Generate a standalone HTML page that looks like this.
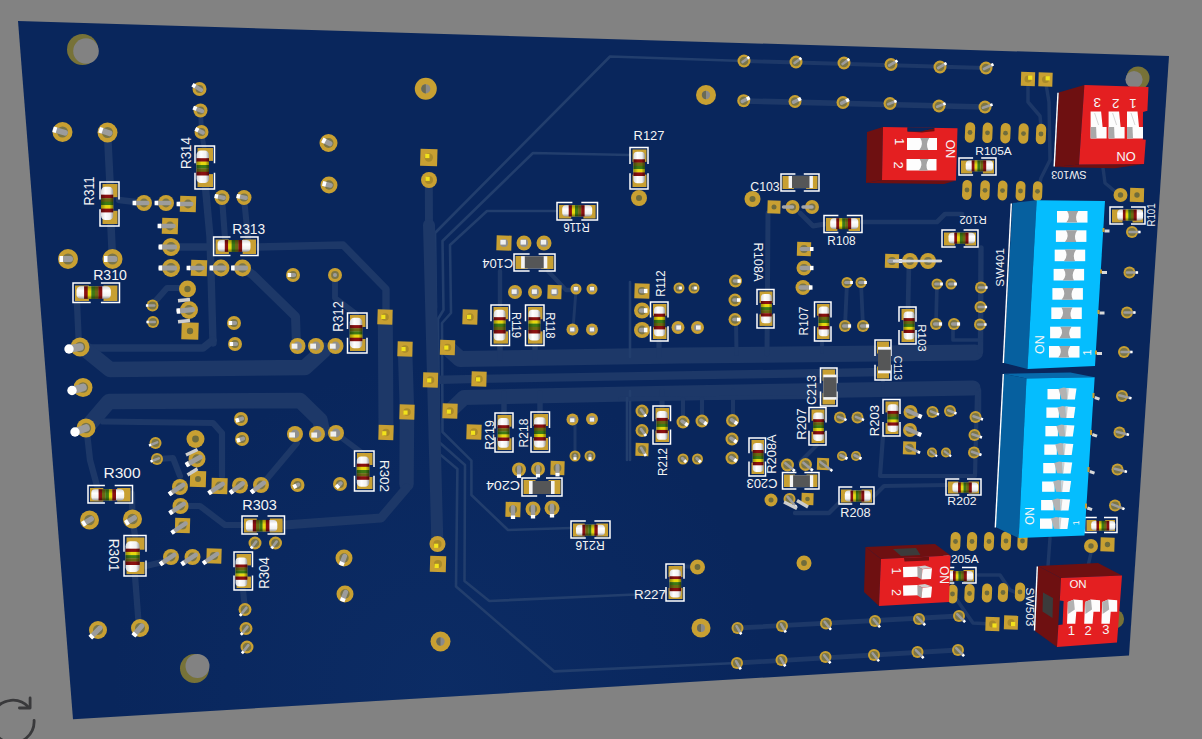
<!DOCTYPE html>
<html lang="en"><head><meta charset="utf-8"><title>PCB 3D view</title>
<style>html,body{margin:0;padding:0;background:#828282;overflow:hidden}svg{display:block}</style>
</head><body>
<svg width="1202" height="739" viewBox="0 0 1202 739">
<defs>
<linearGradient id="cylH" x1="0" y1="0" x2="0" y2="1"><stop offset="0" stop-color="#d8d8d8"/><stop offset="0.35" stop-color="#ffffff"/><stop offset="0.75" stop-color="#f0f0f0"/><stop offset="1" stop-color="#9a9a9a"/></linearGradient>
<linearGradient id="cylV" x1="0" y1="0" x2="1" y2="0"><stop offset="0" stop-color="#d8d8d8"/><stop offset="0.35" stop-color="#ffffff"/><stop offset="0.75" stop-color="#f0f0f0"/><stop offset="1" stop-color="#9a9a9a"/></linearGradient>
<linearGradient id="shadeH" x1="0" y1="0" x2="0" y2="1"><stop offset="0" stop-color="#000" stop-opacity="0.35"/><stop offset="0.4" stop-color="#000" stop-opacity="0"/><stop offset="0.7" stop-color="#000" stop-opacity="0"/><stop offset="1" stop-color="#000" stop-opacity="0.45"/></linearGradient>
<linearGradient id="shadeV" x1="0" y1="0" x2="1" y2="0"><stop offset="0" stop-color="#000" stop-opacity="0.35"/><stop offset="0.4" stop-color="#000" stop-opacity="0"/><stop offset="0.7" stop-color="#000" stop-opacity="0"/><stop offset="1" stop-color="#000" stop-opacity="0.45"/></linearGradient>
<radialGradient id="spec" cx="440" cy="690" r="330" gradientUnits="userSpaceOnUse"><stop offset="0" stop-color="#1a4a90" stop-opacity="0.16"/><stop offset="1" stop-color="#1a4a90" stop-opacity="0"/></radialGradient>
<clipPath id="bclip"><polygon points="18,21 1169,56 1129,655.5 73,719.3"/></clipPath>
</defs>
<rect width="1202" height="739" fill="#828282"/>
<polygon points="18,21 1169,56 1129,655.5 73,719.3" fill="#09265c"/>
<g clip-path="url(#bclip)">
<rect width="1202" height="739" fill="url(#spec)"/>
<g fill="none" stroke="#1d3868" stroke-linecap="round" stroke-linejoin="round">
<path d="M744 61 L610 56.5 L435 233 L436 307 L434 320 L436 451 L457.4 469 L456 586.6 L554.4 671.4 L737 663" stroke-width="2.6" stroke="#223e6d"/>
<path d="M630 155 L533 153 L442.5 241 L443.5 310 L438 319 L439 442 L465 465 L464.5 581 L489.3 601 L635 594.5 L666 592" stroke-width="2.6" stroke="#223e6d"/>
<path d="M557 211 L487 211 L450 245 L451 313 L442 323 L442.5 432 L471.4 460.6 L471.4 495 L508 530 L571 528" stroke-width="2.6" stroke="#223e6d"/>
<path d="M744 101 L985 107" stroke-width="5.7"/>
<path d="M986 68 L744 61" stroke-width="3.8"/>
<path d="M428.8 182 L429 225" stroke-width="8"/>
<path d="M429 225 L437.3 540" stroke-width="12"/>
<path d="M107.5 133 L110 183" stroke-width="7.6"/>
<path d="M111 226 L112.5 259" stroke-width="7.6"/>
<path d="M119 200 L144 203" stroke-width="6.3"/>
<path d="M205.5 188 L210 237 L213 343" stroke-width="7.4"/>
<path d="M222 198 L225 238" stroke-width="6.1"/>
<path d="M244 198 L248 238" stroke-width="6.1"/>
<path d="M171 247 L214 247" stroke-width="7.4"/>
<path d="M258 247 L343 245 L386 289 L386 317" stroke-width="7.4"/>
<path d="M385.3 317 L386 432" stroke-width="15"/>
<path d="M243 268 L253 275 L295.5 316.5 L296.5 346" stroke-width="9"/>
<path d="M335 275 L335 298 L356 314" stroke-width="5.9"/>
<path d="M80 348 L203 348 L213 340" stroke-width="7.5"/>
<path d="M77 303 L79 347" stroke-width="6.4"/>
<path d="M152 305 L167 288 L187 288" stroke-width="6.2"/>
<path d="M86 350 L110 369.5 L305 367.5 L324 350" stroke-width="15.5"/>
<path d="M88 426 L109 401.5 L300 400.5 L320 420 L322 430" stroke-width="15.5"/>
<path d="M103 421.5 L213 423 L222 433 L222 476" stroke-width="6.2"/>
<path d="M87 433 L90 460 L97 486" stroke-width="6.4"/>
<path d="M132 494 L132.5 519 L135 536" stroke-width="6.3"/>
<path d="M266 480 L297 443" stroke-width="6"/>
<path d="M340 436.5 L362 453" stroke-width="5.9"/>
<path d="M405 349 L407 412 L406.5 484" stroke-width="14.5"/>
<path d="M406.5 488 L381 518 L284.5 525" stroke-width="9"/>
<path d="M180.5 506 L200 506 L225 525 L242 525" stroke-width="6.2"/>
<path d="M157 459 L173 458 L180 476" stroke-width="6.2"/>
<path d="M135 576 L139 628" stroke-width="6.3"/>
<path d="M146 566 L171 560" stroke-width="6.3"/>
<path d="M243 590 L245 609" stroke-width="6.1"/>
<path d="M449 349 L460 359 L680 355.5 L975 352.5" stroke-width="16"/>
<path d="M430.5 380 L479 378.8 L680 375.4 L883 372" stroke-width="8.3"/>
<path d="M452 409 L464 397.5 L680 393 L973 388" stroke-width="15"/>
<path d="M630 282 L630 357" stroke-width="2.6" stroke="#223e6d"/>
<path d="M768 213 L767 354" stroke-width="5"/>
<path d="M736 320 L736.5 354" stroke-width="4"/>
<path d="M500 345 L500 358" stroke-width="5.6"/>
<path d="M535 345 L535 358" stroke-width="5.5"/>
<path d="M659 341 L659 356" stroke-width="5.2"/>
<path d="M630 391 L630 460" stroke-width="2.6" stroke="#223e6d"/>
<path d="M662 391 L662 407" stroke-width="5.2"/>
<path d="M504 393 L504 414" stroke-width="5.5"/>
<path d="M540 393 L540 413" stroke-width="5.5"/>
<path d="M733 390 L733 420" stroke-width="4"/>
<path d="M737 663 L958 650" stroke-width="4.8"/>
<path d="M737.5 628 L959 616" stroke-width="4.8"/>
<path d="M800 213 L813 226 L825 224" stroke-width="4.9"/>
<path d="M862 222 L937 222 L945 214 L962 214" stroke-width="4.7"/>
<path d="M980.5 352 L981 248" stroke-width="5.4"/>
<path d="M909 262 L908 308" stroke-width="4.7"/>
<path d="M847 283 L845 326" stroke-width="3.9"/>
<path d="M861 283 L863 326" stroke-width="3.8"/>
<path d="M937 284 L936 324" stroke-width="3.7"/>
<path d="M953 326 L953 340 L981 340" stroke-width="3.7"/>
<path d="M1028 84 L1028 102 L1040 116 L1041 126" stroke-width="3.5"/>
<path d="M1046 84 L1049 102 L1050 160 L1041 178 L1039 186" stroke-width="3.5"/>
<path d="M1103 168 L1105 183 L1117 193" stroke-width="3.4"/>
<path d="M822 341 L822 352" stroke-width="3.9"/>
<path d="M883 380 L883 388" stroke-width="3.8"/>
<path d="M620 399 L817 397" stroke-width="4.1"/>
<path d="M627 398 L627 460" stroke-width="2.6" stroke="#223e6d"/>
<path d="M683 399 L683 422" stroke-width="4.1"/>
<path d="M702 399 L702 421" stroke-width="4.1"/>
<path d="M979 390 L979 413" stroke-width="4.5"/>
<path d="M883 436 L880 476 L975 476 L977 392" stroke-width="4.2"/>
<path d="M795 513 L829 513 L841 501" stroke-width="4.4"/>
<path d="M874 496 L884 486 L947 485" stroke-width="4.2"/>
<path d="M817 445 L800 462" stroke-width="3.9"/>
<path d="M676 566 L697 567" stroke-width="4.1"/>
<path d="M957 600 L973 623 L992 624" stroke-width="3.6"/>
<path d="M978 575 L1000 575 L1010 590 L1030 598" stroke-width="3.6"/>
<path d="M1091 553 L1088 566" stroke-width="3.4"/>
<path d="M1050 538 L1048 566" stroke-width="3.5"/>
<path d="M500 271 L500 305" stroke-width="4.4"/>
<path d="M548 271 L566 290 L576 290" stroke-width="4.3"/>
<path d="M576 290 L573 329" stroke-width="3"/>
<path d="M575 420 L575 456" stroke-width="3"/>
<path d="M200.5 110.5 L201.5 132 L204 147" stroke-width="4.9"/>
</g>
<circle cx="82.5" cy="49.5" r="15.5" fill="#777238"/>
<circle cx="86" cy="51" r="12.8" fill="#828282"/>
<circle cx="1138" cy="78" r="11.5" fill="#777238"/>
<circle cx="1134" cy="79.5" r="8.6" fill="#828282"/>
<circle cx="194.5" cy="668.5" r="14.5" fill="#777238"/>
<circle cx="197.5" cy="666" r="12" fill="#828282"/>
<circle cx="1114.5" cy="619" r="9.6" fill="#777238"/>
<circle cx="1104" cy="618" r="8" fill="#828282"/>
<circle cx="62.5" cy="132" r="10" fill="#c8a032"/>
<circle cx="62.5" cy="132" r="5.5" fill="#7a7548"/>
<line x1="65" y1="132.7" x2="55.5" y2="130" stroke="#9c9c9c" stroke-width="5.8" stroke-linecap="round"/>
<line x1="56.5" y1="130.3" x2="53.1" y2="129.3" stroke="#fff" stroke-width="5.8"/>
<circle cx="107.5" cy="132.5" r="10" fill="#c8a032"/>
<circle cx="107.5" cy="132.5" r="5.5" fill="#7a7548"/>
<line x1="109.6" y1="133.2" x2="101.5" y2="130.5" stroke="#9c9c9c" stroke-width="5.8" stroke-linecap="round"/>
<line x1="102.5" y1="130.8" x2="99.2" y2="129.7" stroke="#fff" stroke-width="5.8"/>
<circle cx="199.5" cy="89" r="7" fill="#c8a032"/>
<circle cx="199.5" cy="89" r="3.9" fill="#7a7548"/>
<line x1="201.2" y1="90" x2="194.5" y2="86" stroke="#9c9c9c" stroke-width="4.1" stroke-linecap="round"/>
<line x1="195.4" y1="86.5" x2="192.4" y2="84.7" stroke="#fff" stroke-width="4.1"/>
<circle cx="200.5" cy="110.5" r="7" fill="#c8a032"/>
<circle cx="200.5" cy="110.5" r="3.9" fill="#7a7548"/>
<line x1="202.2" y1="111.2" x2="195.5" y2="108.5" stroke="#9c9c9c" stroke-width="4.1" stroke-linecap="round"/>
<line x1="196.5" y1="108.9" x2="193.2" y2="107.6" stroke="#fff" stroke-width="4.1"/>
<circle cx="201.5" cy="132" r="7" fill="#c8a032"/>
<circle cx="201.5" cy="132" r="3.9" fill="#7a7548"/>
<line x1="202.9" y1="132.7" x2="197.5" y2="130" stroke="#9c9c9c" stroke-width="4.1" stroke-linecap="round"/>
<line x1="198.4" y1="130.5" x2="195.3" y2="128.9" stroke="#fff" stroke-width="4.1"/>
<circle cx="425.8" cy="88.8" r="11" fill="#c8a032"/>
<circle cx="425.8" cy="88.8" r="4.6" fill="#8a8a8a"/>
<path d="M425.8 84.2 a4.6 4.6 0 0 0 0 9.2 z" fill="#6a6a55"/>
<circle cx="328.5" cy="143" r="9" fill="#c8a032"/>
<circle cx="328.5" cy="143" r="5" fill="#7a7548"/>
<line x1="329.9" y1="143.7" x2="324.5" y2="141" stroke="#9c9c9c" stroke-width="5.2" stroke-linecap="round"/>
<line x1="325.4" y1="141.5" x2="322.3" y2="139.9" stroke="#fff" stroke-width="5.2"/>
<circle cx="329" cy="185" r="8.5" fill="#c8a032"/>
<circle cx="329" cy="185" r="4.7" fill="#7a7548"/>
<line x1="330.4" y1="185.3" x2="325" y2="184" stroke="#9c9c9c" stroke-width="4.9" stroke-linecap="round"/>
<line x1="326" y1="184.3" x2="322.6" y2="183.4" stroke="#fff" stroke-width="4.9"/>
<rect x="420.3" y="149" width="17" height="17" fill="#c8a032" transform="rotate(1.7 428.8 157.5)"/>
<circle cx="428.8" cy="157.5" r="4.2" fill="#a98a2a"/>
<rect x="425.2" y="153.9" width="4.2" height="4.2" fill="#f2e21c"/>
<circle cx="429" cy="180" r="8" fill="#c8a032"/>
<circle cx="429" cy="180" r="4" fill="#a98a2a"/>
<rect x="425.5" y="176.7" width="4.2" height="4.2" fill="#f2e21c"/>
<circle cx="144" cy="203" r="8" fill="#c8a032"/>
<circle cx="144" cy="203" r="4.4" fill="#7a7548"/>
<line x1="147.2" y1="203" x2="135" y2="203" stroke="#9c9c9c" stroke-width="4.6" stroke-linecap="round"/>
<line x1="136.1" y1="203" x2="132.6" y2="203" stroke="#fff" stroke-width="4.6"/>
<circle cx="166" cy="203" r="8" fill="#c8a032"/>
<circle cx="166" cy="203" r="4.4" fill="#7a7548"/>
<line x1="169.2" y1="203" x2="157" y2="203" stroke="#9c9c9c" stroke-width="4.6" stroke-linecap="round"/>
<line x1="158.1" y1="203" x2="154.6" y2="203" stroke="#fff" stroke-width="4.6"/>
<rect x="180" y="196" width="16" height="16" fill="#c8a032" transform="rotate(1.7 188 204)"/>
<circle cx="188" cy="204" r="4.4" fill="#7a7548"/>
<line x1="191.2" y1="204" x2="179" y2="204" stroke="#9c9c9c" stroke-width="4.6" stroke-linecap="round"/>
<line x1="180.1" y1="204" x2="176.6" y2="204" stroke="#fff" stroke-width="4.6"/>
<rect x="162" y="218" width="16" height="16" fill="#c8a032" transform="rotate(1.7 170 226)"/>
<circle cx="170" cy="226" r="4.4" fill="#7a7548"/>
<line x1="173.5" y1="226" x2="160" y2="226" stroke="#9c9c9c" stroke-width="4.6" stroke-linecap="round"/>
<line x1="161.1" y1="226" x2="157.6" y2="226" stroke="#fff" stroke-width="4.6"/>
<circle cx="171" cy="247" r="9" fill="#c8a032"/>
<circle cx="171" cy="247" r="5" fill="#7a7548"/>
<line x1="174.5" y1="247" x2="161" y2="247" stroke="#9c9c9c" stroke-width="5.2" stroke-linecap="round"/>
<line x1="162.1" y1="247" x2="158.6" y2="247" stroke="#fff" stroke-width="5.2"/>
<circle cx="171" cy="268" r="9" fill="#c8a032"/>
<circle cx="171" cy="268" r="5" fill="#7a7548"/>
<line x1="174.5" y1="268" x2="161" y2="268" stroke="#9c9c9c" stroke-width="5.2" stroke-linecap="round"/>
<line x1="162.1" y1="268" x2="158.6" y2="268" stroke="#fff" stroke-width="5.2"/>
<rect x="191" y="260" width="16" height="16" fill="#c8a032" transform="rotate(1.7 199 268)"/>
<circle cx="199" cy="268" r="4.4" fill="#7a7548"/>
<line x1="202.5" y1="268" x2="189" y2="268" stroke="#9c9c9c" stroke-width="4.6" stroke-linecap="round"/>
<line x1="190.1" y1="268" x2="186.6" y2="268" stroke="#fff" stroke-width="4.6"/>
<circle cx="221" cy="268" r="8.5" fill="#c8a032"/>
<circle cx="221" cy="268" r="4.7" fill="#7a7548"/>
<line x1="224.2" y1="268" x2="212" y2="268" stroke="#9c9c9c" stroke-width="4.9" stroke-linecap="round"/>
<line x1="213.1" y1="268" x2="209.6" y2="268" stroke="#fff" stroke-width="4.9"/>
<circle cx="242.5" cy="268" r="8.5" fill="#c8a032"/>
<circle cx="242.5" cy="268" r="4.7" fill="#7a7548"/>
<line x1="245.7" y1="268" x2="233.5" y2="268" stroke="#9c9c9c" stroke-width="4.9" stroke-linecap="round"/>
<line x1="234.6" y1="268" x2="231.1" y2="268" stroke="#fff" stroke-width="4.9"/>
<circle cx="222" cy="197.5" r="7.5" fill="#c8a032"/>
<circle cx="222" cy="197.5" r="4.1" fill="#7a7548"/>
<line x1="223.8" y1="197.8" x2="217" y2="196.5" stroke="#9c9c9c" stroke-width="4.3" stroke-linecap="round"/>
<line x1="218" y1="196.7" x2="214.6" y2="196" stroke="#fff" stroke-width="4.3"/>
<circle cx="244" cy="197.5" r="7.5" fill="#c8a032"/>
<circle cx="244" cy="197.5" r="4.1" fill="#7a7548"/>
<line x1="245.8" y1="197.8" x2="239" y2="196.5" stroke="#9c9c9c" stroke-width="4.3" stroke-linecap="round"/>
<line x1="240" y1="196.7" x2="236.6" y2="196" stroke="#fff" stroke-width="4.3"/>
<circle cx="68" cy="259" r="10" fill="#c8a032"/>
<circle cx="68" cy="259" r="5.5" fill="#7a7548"/>
<line x1="70.1" y1="259" x2="62" y2="259" stroke="#9c9c9c" stroke-width="5.8" stroke-linecap="round"/>
<line x1="63" y1="259" x2="59.5" y2="259" stroke="#fff" stroke-width="5.8"/>
<circle cx="112.5" cy="259" r="10" fill="#c8a032"/>
<circle cx="112.5" cy="259" r="5.5" fill="#7a7548"/>
<line x1="114.6" y1="259" x2="106.5" y2="259" stroke="#9c9c9c" stroke-width="5.8" stroke-linecap="round"/>
<line x1="107.5" y1="259" x2="104" y2="259" stroke="#fff" stroke-width="5.8"/>
<circle cx="152.5" cy="305.5" r="6" fill="#c8a032"/>
<circle cx="152.5" cy="305.5" r="4" fill="#7a7548"/>
<line x1="154.2" y1="305.5" x2="147.5" y2="305.5" stroke="#9c9c9c" stroke-width="2.5" stroke-linecap="round"/>
<line x1="148.2" y1="305.5" x2="145.9" y2="305.5" stroke="#fff" stroke-width="2.5"/>
<circle cx="153" cy="322" r="6" fill="#c8a032"/>
<circle cx="153" cy="322" r="4" fill="#7a7548"/>
<line x1="154.8" y1="322" x2="148" y2="322" stroke="#9c9c9c" stroke-width="2.5" stroke-linecap="round"/>
<line x1="148.7" y1="322" x2="146.4" y2="322" stroke="#fff" stroke-width="2.5"/>
<circle cx="187.5" cy="289" r="8.5" fill="#c8a032"/>
<circle cx="187.5" cy="289" r="3.2" fill="#6f6c3c"/>
<circle cx="189" cy="310" r="9" fill="#c8a032"/>
<circle cx="189" cy="310" r="5" fill="#7a7548"/>
<line x1="192.5" y1="309.6" x2="179" y2="311" stroke="#9c9c9c" stroke-width="5.2" stroke-linecap="round"/>
<line x1="180" y1="310.9" x2="176.6" y2="311.2" stroke="#fff" stroke-width="5.2"/>
<rect x="181.5" y="322.5" width="17" height="17" fill="#c8a032" transform="rotate(1.7 190 331)"/>
<circle cx="190" cy="331" r="3.2" fill="#6f6c3c"/>
<circle cx="234" cy="323" r="7" fill="#c8a032"/>
<circle cx="234" cy="323" r="3.9" fill="#7a7548"/>
<line x1="235.1" y1="323" x2="231" y2="323" stroke="#9c9c9c" stroke-width="4.1" stroke-linecap="round"/>
<line x1="232.1" y1="323" x2="228.6" y2="323" stroke="#fff" stroke-width="4.1"/>
<circle cx="235" cy="344" r="7" fill="#c8a032"/>
<circle cx="235" cy="344" r="3.9" fill="#7a7548"/>
<line x1="236.1" y1="344" x2="232" y2="344" stroke="#9c9c9c" stroke-width="4.1" stroke-linecap="round"/>
<line x1="233.1" y1="344" x2="229.6" y2="344" stroke="#fff" stroke-width="4.1"/>
<circle cx="80" cy="347" r="9.5" fill="#c8a032"/>
<circle cx="80" cy="347" r="5.2" fill="#7a7548"/>
<line x1="80" y1="347" x2="69" y2="349" stroke="#9c9c9c" stroke-width="7.6" stroke-linecap="round"/>
<circle cx="69" cy="349" r="4.7" fill="#fff"/>
<circle cx="293" cy="275" r="7" fill="#c8a032"/>
<circle cx="293" cy="275" r="3.9" fill="#7a7548"/>
<line x1="294.1" y1="275" x2="290" y2="275" stroke="#9c9c9c" stroke-width="4.1" stroke-linecap="round"/>
<line x1="291.1" y1="275" x2="287.6" y2="275" stroke="#fff" stroke-width="4.1"/>
<circle cx="335" cy="275" r="7" fill="#c8a032"/>
<circle cx="335" cy="275" r="3.9" fill="#7a7548"/>
<line x1="335" y1="275" x2="335" y2="275" stroke="#9c9c9c" stroke-width="4.1" stroke-linecap="round"/>
<line x1="335" y1="275" x2="335" y2="275" stroke="#fff" stroke-width="4.1"/>
<circle cx="297.5" cy="346" r="8" fill="#c8a032"/>
<circle cx="297.5" cy="346" r="4.4" fill="#8f8f8f"/>
<rect x="291.6" y="343.6" width="5.8" height="5.1" fill="#f0f0f0"/>
<circle cx="316" cy="346" r="8" fill="#c8a032"/>
<circle cx="316" cy="346" r="4.4" fill="#8f8f8f"/>
<rect x="310.2" y="343.6" width="5.8" height="5.1" fill="#f0f0f0"/>
<circle cx="335.5" cy="346" r="8" fill="#c8a032"/>
<circle cx="335.5" cy="346" r="4.4" fill="#8f8f8f"/>
<rect x="329.9" y="343.6" width="5.8" height="5.1" fill="#f0f0f0"/>
<rect x="377.5" y="309.5" width="15" height="15" fill="#c8a032" transform="rotate(1.7 385 317)"/>
<circle cx="385" cy="317" r="3.8" fill="#a98a2a"/>
<rect x="381.2" y="314.8" width="4.2" height="4.2" fill="#f2e21c"/>
<rect x="397.5" y="341.5" width="15" height="15" fill="#c8a032" transform="rotate(1.7 405 349)"/>
<circle cx="405" cy="349" r="3.8" fill="#a98a2a"/>
<rect x="401.4" y="347" width="4.2" height="4.2" fill="#f2e21c"/>
<rect x="440" y="340" width="15" height="15" fill="#c8a032" transform="rotate(1.7 447.5 347.5)"/>
<circle cx="447.5" cy="347.5" r="3.8" fill="#a98a2a"/>
<rect x="444.2" y="345.5" width="4.2" height="4.2" fill="#f2e21c"/>
<rect x="462.5" y="309.5" width="15" height="15" fill="#c8a032" transform="rotate(1.7 470 317)"/>
<circle cx="470" cy="317" r="3.8" fill="#a98a2a"/>
<rect x="466.9" y="314.8" width="4.2" height="4.2" fill="#f2e21c"/>
<rect x="496.5" y="235.5" width="15" height="15" fill="#c8a032" transform="rotate(1.7 504 243)"/>
<circle cx="504" cy="243" r="4.1" fill="#8f8f8f"/>
<rect x="500.4" y="239.8" width="5.4" height="4.8" fill="#f0f0f0"/>
<circle cx="524" cy="243" r="7.5" fill="#c8a032"/>
<circle cx="524" cy="243" r="4.1" fill="#8f8f8f"/>
<rect x="520.6" y="239.8" width="5.4" height="4.8" fill="#f0f0f0"/>
<circle cx="544" cy="243" r="7.5" fill="#c8a032"/>
<circle cx="544" cy="243" r="4.1" fill="#8f8f8f"/>
<rect x="540.8" y="239.8" width="5.4" height="4.8" fill="#f0f0f0"/>
<circle cx="515" cy="292" r="7" fill="#c8a032"/>
<circle cx="515" cy="292" r="3.9" fill="#8f8f8f"/>
<rect x="511.7" y="289.4" width="5" height="4.5" fill="#f0f0f0"/>
<circle cx="535" cy="292" r="7" fill="#c8a032"/>
<circle cx="535" cy="292" r="3.9" fill="#8f8f8f"/>
<rect x="531.9" y="289.4" width="5" height="4.5" fill="#f0f0f0"/>
<rect x="547.5" y="285" width="14" height="14" fill="#c8a032" transform="rotate(1.7 554.5 292)"/>
<circle cx="554.5" cy="292" r="3.9" fill="#8f8f8f"/>
<rect x="551.6" y="289.4" width="5" height="4.5" fill="#f0f0f0"/>
<circle cx="576" cy="289" r="5.5" fill="#c8a032"/>
<circle cx="576" cy="289" r="3" fill="#8f8f8f"/>
<rect x="573.9" y="287" width="4" height="3.5" fill="#f0f0f0"/>
<circle cx="592" cy="289" r="5.5" fill="#c8a032"/>
<circle cx="592" cy="289" r="3" fill="#8f8f8f"/>
<rect x="590" y="287" width="4" height="3.5" fill="#f0f0f0"/>
<circle cx="572.5" cy="329.5" r="6" fill="#c8a032"/>
<circle cx="572.5" cy="329.5" r="3.3" fill="#8f8f8f"/>
<rect x="570.1" y="327.6" width="4.3" height="3.8" fill="#f0f0f0"/>
<circle cx="592" cy="329.5" r="6" fill="#c8a032"/>
<circle cx="592" cy="329.5" r="3.3" fill="#8f8f8f"/>
<rect x="589.8" y="327.6" width="4.3" height="3.8" fill="#f0f0f0"/>
<circle cx="744" cy="61" r="6.5" fill="#c8a032"/>
<circle cx="744" cy="61" r="4.3" fill="#7a7548"/>
<line x1="742.6" y1="62" x2="748" y2="58" stroke="#9c9c9c" stroke-width="2.7" stroke-linecap="round"/>
<line x1="747.4" y1="58.4" x2="749.4" y2="57" stroke="#fff" stroke-width="2.7"/>
<circle cx="796" cy="62" r="6.5" fill="#c8a032"/>
<circle cx="796" cy="62" r="4.3" fill="#7a7548"/>
<line x1="794.6" y1="63" x2="800" y2="59" stroke="#9c9c9c" stroke-width="2.7" stroke-linecap="round"/>
<line x1="799.4" y1="59.4" x2="801.4" y2="58" stroke="#fff" stroke-width="2.7"/>
<circle cx="844" cy="63" r="6.5" fill="#c8a032"/>
<circle cx="844" cy="63" r="4.3" fill="#7a7548"/>
<line x1="842.6" y1="64" x2="848" y2="60" stroke="#9c9c9c" stroke-width="2.7" stroke-linecap="round"/>
<line x1="847.4" y1="60.4" x2="849.4" y2="59" stroke="#fff" stroke-width="2.7"/>
<circle cx="891" cy="64.5" r="6.5" fill="#c8a032"/>
<circle cx="891" cy="64.5" r="4.3" fill="#7a7548"/>
<line x1="889.2" y1="65.5" x2="896" y2="61.5" stroke="#9c9c9c" stroke-width="2.7" stroke-linecap="round"/>
<line x1="895.4" y1="61.9" x2="897.5" y2="60.6" stroke="#fff" stroke-width="2.7"/>
<circle cx="940" cy="67" r="6.5" fill="#c8a032"/>
<circle cx="940" cy="67" r="4.3" fill="#7a7548"/>
<line x1="938.2" y1="68" x2="945" y2="64" stroke="#9c9c9c" stroke-width="2.7" stroke-linecap="round"/>
<line x1="944.4" y1="64.4" x2="946.5" y2="63.1" stroke="#fff" stroke-width="2.7"/>
<circle cx="986" cy="68" r="6.5" fill="#c8a032"/>
<circle cx="986" cy="68" r="4.3" fill="#7a7548"/>
<line x1="983.9" y1="69" x2="992" y2="65" stroke="#9c9c9c" stroke-width="2.7" stroke-linecap="round"/>
<line x1="991.3" y1="65.3" x2="993.5" y2="64.2" stroke="#fff" stroke-width="2.7"/>
<circle cx="743.7" cy="100.7" r="6.5" fill="#c8a032"/>
<circle cx="743.7" cy="100.7" r="4.3" fill="#7a7548"/>
<line x1="742.3" y1="101.4" x2="747.7" y2="98.7" stroke="#9c9c9c" stroke-width="3.6" stroke-linecap="round"/>
<line x1="746.8" y1="99.1" x2="749.7" y2="97.7" stroke="#fff" stroke-width="3.6"/>
<circle cx="795" cy="101.5" r="6.5" fill="#c8a032"/>
<circle cx="795" cy="101.5" r="4.3" fill="#7a7548"/>
<line x1="793.6" y1="102.2" x2="799" y2="99.5" stroke="#9c9c9c" stroke-width="3.6" stroke-linecap="round"/>
<line x1="798.1" y1="99.9" x2="801" y2="98.5" stroke="#fff" stroke-width="3.6"/>
<circle cx="843" cy="102.5" r="6.5" fill="#c8a032"/>
<circle cx="843" cy="102.5" r="4.3" fill="#7a7548"/>
<line x1="841.6" y1="103.2" x2="847" y2="100.5" stroke="#9c9c9c" stroke-width="3.6" stroke-linecap="round"/>
<line x1="846.1" y1="100.9" x2="849" y2="99.5" stroke="#fff" stroke-width="3.6"/>
<circle cx="890" cy="103.5" r="6.5" fill="#c8a032"/>
<circle cx="890" cy="103.5" r="4.3" fill="#7a7548"/>
<line x1="888.2" y1="104.2" x2="895" y2="101.5" stroke="#9c9c9c" stroke-width="2.7" stroke-linecap="round"/>
<line x1="894.3" y1="101.8" x2="896.6" y2="100.9" stroke="#fff" stroke-width="2.7"/>
<circle cx="939" cy="106" r="6.5" fill="#c8a032"/>
<circle cx="939" cy="106" r="4.3" fill="#7a7548"/>
<line x1="937.2" y1="106.7" x2="944" y2="104" stroke="#9c9c9c" stroke-width="2.7" stroke-linecap="round"/>
<line x1="943.3" y1="104.3" x2="945.6" y2="103.4" stroke="#fff" stroke-width="2.7"/>
<circle cx="985" cy="107" r="6.5" fill="#c8a032"/>
<circle cx="985" cy="107" r="4.3" fill="#7a7548"/>
<line x1="982.9" y1="107.7" x2="991" y2="105" stroke="#9c9c9c" stroke-width="2.7" stroke-linecap="round"/>
<line x1="990.3" y1="105.2" x2="992.6" y2="104.5" stroke="#fff" stroke-width="2.7"/>
<circle cx="706" cy="95" r="10" fill="#c8a032"/>
<circle cx="706" cy="95" r="4.2" fill="#8a8a8a"/>
<path d="M706 90.8 a4.2 4.2 0 0 0 0 8.4 z" fill="#6a6a55"/>
<rect x="1021" y="72" width="14" height="14" fill="#c8a032" transform="rotate(1.7 1028 79)"/>
<circle cx="1028" cy="79" r="3.5" fill="#a98a2a"/>
<rect x="1028.1" y="75.6" width="4.2" height="4.2" fill="#f2e21c"/>
<rect x="1038.5" y="72.5" width="14" height="14" fill="#c8a032" transform="rotate(1.7 1045.5 79.5)"/>
<circle cx="1045.5" cy="79.5" r="3.5" fill="#a98a2a"/>
<rect x="1045.6" y="76.2" width="4.2" height="4.2" fill="#f2e21c"/>
<rect x="965" y="122.2" width="10" height="20.5" rx="5" fill="#c8a032" transform="rotate(2.5 970 132.5)"/>
<circle cx="970" cy="132.5" r="2.4" fill="#6f6c3c"/>
<rect x="982.5" y="122.6" width="10" height="20.5" rx="5" fill="#c8a032" transform="rotate(2.5 987.5 132.8)"/>
<circle cx="987.5" cy="132.8" r="2.4" fill="#6f6c3c"/>
<rect x="1000.5" y="122.9" width="10" height="20.5" rx="5" fill="#c8a032" transform="rotate(2.5 1005.5 133.2)"/>
<circle cx="1005.5" cy="133.2" r="2.4" fill="#6f6c3c"/>
<rect x="1018.5" y="123.3" width="10" height="20.5" rx="5" fill="#c8a032" transform="rotate(2.5 1023.5 133.6)"/>
<circle cx="1023.5" cy="133.6" r="2.4" fill="#6f6c3c"/>
<rect x="1036" y="123.8" width="10" height="20.5" rx="5" fill="#c8a032" transform="rotate(2.5 1041 134)"/>
<circle cx="1041" cy="134" r="2.4" fill="#6f6c3c"/>
<rect x="962.2" y="180" width="9.5" height="20" rx="4.8" fill="#c8a032" transform="rotate(2.5 967 190)"/>
<circle cx="967" cy="190" r="2.4" fill="#6f6c3c"/>
<rect x="980.2" y="180.3" width="9.5" height="20" rx="4.8" fill="#c8a032" transform="rotate(2.5 985 190.3)"/>
<circle cx="985" cy="190.3" r="2.4" fill="#6f6c3c"/>
<rect x="997.8" y="180.6" width="9.5" height="20" rx="4.8" fill="#c8a032" transform="rotate(2.5 1002.5 190.6)"/>
<circle cx="1002.5" cy="190.6" r="2.4" fill="#6f6c3c"/>
<rect x="1015.8" y="181" width="9.5" height="20" rx="4.8" fill="#c8a032" transform="rotate(2.5 1020.5 191)"/>
<circle cx="1020.5" cy="191" r="2.4" fill="#6f6c3c"/>
<rect x="1032.8" y="181.3" width="9.5" height="20" rx="4.8" fill="#c8a032" transform="rotate(2.5 1037.5 191.3)"/>
<circle cx="1037.5" cy="191.3" r="2.4" fill="#6f6c3c"/>
<circle cx="639" cy="198" r="8" fill="#c8a032"/>
<circle cx="639" cy="198" r="3" fill="#6f6c3c"/>
<circle cx="752.5" cy="199" r="8" fill="#c8a032"/>
<circle cx="752.5" cy="199" r="3" fill="#6f6c3c"/>
<rect x="767.5" y="200.5" width="13" height="13" fill="#c8a032" transform="rotate(1.7 774 207)"/>
<circle cx="774" cy="207" r="2.5" fill="#6f6c3c"/>
<circle cx="792.5" cy="207" r="7" fill="#c8a032"/>
<circle cx="792.5" cy="207" r="3.5" fill="#77724a"/>
<line x1="792.5" y1="207" x2="783.5" y2="207" stroke="#a6a6a6" stroke-width="3.5" stroke-linecap="round"/>
<circle cx="812" cy="207" r="7" fill="#c8a032"/>
<circle cx="812" cy="207" r="3.5" fill="#77724a"/>
<line x1="812" y1="207" x2="803" y2="207" stroke="#a6a6a6" stroke-width="3.5" stroke-linecap="round"/>
<rect x="797" y="242" width="14" height="14" fill="#c8a032" transform="rotate(1.7 804 249)"/>
<circle cx="804" cy="249" r="3.9" fill="#7a7548"/>
<line x1="801.5" y1="249" x2="811" y2="249" stroke="#9c9c9c" stroke-width="4.1" stroke-linecap="round"/>
<line x1="810" y1="249" x2="813.5" y2="249" stroke="#fff" stroke-width="4.1"/>
<circle cx="804" cy="268" r="7.5" fill="#c8a032"/>
<circle cx="804" cy="268" r="4.1" fill="#7a7548"/>
<line x1="801.5" y1="268" x2="811" y2="268" stroke="#9c9c9c" stroke-width="4.3" stroke-linecap="round"/>
<line x1="810" y1="268" x2="813.5" y2="268" stroke="#fff" stroke-width="4.3"/>
<circle cx="803" cy="287.5" r="7.5" fill="#c8a032"/>
<circle cx="803" cy="287.5" r="4.1" fill="#7a7548"/>
<line x1="800.5" y1="287.5" x2="810" y2="287.5" stroke="#9c9c9c" stroke-width="4.3" stroke-linecap="round"/>
<line x1="809" y1="287.5" x2="812.5" y2="287.5" stroke="#fff" stroke-width="4.3"/>
<rect x="885" y="254" width="14" height="14" fill="#c8a032" transform="rotate(1.7 892 261)"/>
<circle cx="892" cy="261" r="3.9" fill="#7a7548"/>
<line x1="889.2" y1="261" x2="900" y2="261" stroke="#9c9c9c" stroke-width="4.1" stroke-linecap="round"/>
<line x1="899" y1="261" x2="902.5" y2="261" stroke="#fff" stroke-width="4.1"/>
<circle cx="735.5" cy="281" r="6.5" fill="#c8a032"/>
<circle cx="735.5" cy="281" r="4.3" fill="#7a7548"/>
<line x1="734.5" y1="281" x2="738.5" y2="281" stroke="#9c9c9c" stroke-width="3.6" stroke-linecap="round"/>
<line x1="737.5" y1="281" x2="740.8" y2="281" stroke="#fff" stroke-width="3.6"/>
<circle cx="735" cy="300" r="6.5" fill="#c8a032"/>
<circle cx="735" cy="300" r="4.3" fill="#7a7548"/>
<line x1="734" y1="300" x2="738" y2="300" stroke="#9c9c9c" stroke-width="3.6" stroke-linecap="round"/>
<line x1="737" y1="300" x2="740.3" y2="300" stroke="#fff" stroke-width="3.6"/>
<circle cx="735" cy="319.5" r="6.5" fill="#c8a032"/>
<circle cx="735" cy="319.5" r="4.3" fill="#7a7548"/>
<line x1="734" y1="319.5" x2="738" y2="319.5" stroke="#9c9c9c" stroke-width="3.6" stroke-linecap="round"/>
<line x1="737" y1="319.5" x2="740.3" y2="319.5" stroke="#fff" stroke-width="3.6"/>
<rect x="634.5" y="283.5" width="15" height="15" fill="#c8a032" transform="rotate(1.7 642 291)"/>
<circle cx="642" cy="291" r="4.1" fill="#7a7548"/>
<line x1="641" y1="291" x2="645" y2="291" stroke="#9c9c9c" stroke-width="4.3" stroke-linecap="round"/>
<line x1="644" y1="291" x2="647.5" y2="291" stroke="#fff" stroke-width="4.3"/>
<circle cx="642" cy="310.5" r="8" fill="#c8a032"/>
<circle cx="642" cy="310.5" r="4.4" fill="#7a7548"/>
<line x1="641" y1="310.5" x2="645" y2="310.5" stroke="#9c9c9c" stroke-width="4.6" stroke-linecap="round"/>
<line x1="644" y1="310.5" x2="647.5" y2="310.5" stroke="#fff" stroke-width="4.6"/>
<circle cx="642" cy="330" r="8" fill="#c8a032"/>
<circle cx="642" cy="330" r="4.4" fill="#7a7548"/>
<line x1="641" y1="330" x2="645" y2="330" stroke="#9c9c9c" stroke-width="4.6" stroke-linecap="round"/>
<line x1="644" y1="330" x2="647.5" y2="330" stroke="#fff" stroke-width="4.6"/>
<circle cx="679" cy="288" r="5.5" fill="#c8a032"/>
<circle cx="679" cy="288" r="3.6" fill="#7a7548"/>
<line x1="678.6" y1="288" x2="680" y2="288" stroke="#9c9c9c" stroke-width="3" stroke-linecap="round"/>
<line x1="679.2" y1="288" x2="681.9" y2="288" stroke="#fff" stroke-width="3"/>
<circle cx="694" cy="288" r="5.5" fill="#c8a032"/>
<circle cx="694" cy="288" r="3.6" fill="#7a7548"/>
<line x1="693.6" y1="288" x2="695" y2="288" stroke="#9c9c9c" stroke-width="3" stroke-linecap="round"/>
<line x1="694.2" y1="288" x2="696.9" y2="288" stroke="#fff" stroke-width="3"/>
<circle cx="678" cy="327.5" r="6.5" fill="#c8a032"/>
<circle cx="678" cy="327.5" r="3.6" fill="#8f8f8f"/>
<rect x="676.3" y="325.4" width="4.7" height="4.2" fill="#f0f0f0"/>
<circle cx="697.5" cy="327.5" r="6.5" fill="#c8a032"/>
<circle cx="697.5" cy="327.5" r="3.6" fill="#8f8f8f"/>
<rect x="696" y="325.4" width="4.7" height="4.2" fill="#f0f0f0"/>
<circle cx="847" cy="282.5" r="5.5" fill="#c8a032"/>
<circle cx="847" cy="282.5" r="3.6" fill="#7a7548"/>
<line x1="845.6" y1="282.5" x2="851" y2="282.5" stroke="#9c9c9c" stroke-width="3" stroke-linecap="round"/>
<line x1="850.2" y1="282.5" x2="852.9" y2="282.5" stroke="#fff" stroke-width="3"/>
<circle cx="861" cy="282.5" r="5.5" fill="#c8a032"/>
<circle cx="861" cy="282.5" r="3.6" fill="#7a7548"/>
<line x1="859.6" y1="282.5" x2="865" y2="282.5" stroke="#9c9c9c" stroke-width="3" stroke-linecap="round"/>
<line x1="864.2" y1="282.5" x2="866.9" y2="282.5" stroke="#fff" stroke-width="3"/>
<circle cx="845" cy="326" r="6" fill="#c8a032"/>
<circle cx="845" cy="326" r="4" fill="#7a7548"/>
<line x1="843.6" y1="326" x2="849" y2="326" stroke="#9c9c9c" stroke-width="3.3" stroke-linecap="round"/>
<line x1="848.1" y1="326" x2="851.1" y2="326" stroke="#fff" stroke-width="3.3"/>
<circle cx="863" cy="326" r="6" fill="#c8a032"/>
<circle cx="863" cy="326" r="4" fill="#7a7548"/>
<line x1="861.6" y1="326" x2="867" y2="326" stroke="#9c9c9c" stroke-width="3.3" stroke-linecap="round"/>
<line x1="866.1" y1="326" x2="869.1" y2="326" stroke="#fff" stroke-width="3.3"/>
<circle cx="1120.5" cy="195" r="7" fill="#c8a032"/>
<circle cx="1120.5" cy="195" r="2.7" fill="#6f6c3c"/>
<rect x="1130" y="188" width="14" height="14" fill="#c8a032" transform="rotate(1.7 1137 195)"/>
<circle cx="1137" cy="195" r="2.7" fill="#6f6c3c"/>
<circle cx="1132" cy="232" r="6" fill="#c8a032"/>
<circle cx="1132" cy="232" r="4" fill="#7a7548"/>
<line x1="1129.5" y1="232" x2="1139" y2="232" stroke="#9c9c9c" stroke-width="2.5" stroke-linecap="round"/>
<line x1="1138.3" y1="232" x2="1140.6" y2="232" stroke="#fff" stroke-width="2.5"/>
<circle cx="1129.5" cy="272.5" r="6" fill="#c8a032"/>
<circle cx="1129.5" cy="272.5" r="4" fill="#7a7548"/>
<line x1="1127" y1="272.5" x2="1136.5" y2="272.5" stroke="#9c9c9c" stroke-width="2.5" stroke-linecap="round"/>
<line x1="1135.8" y1="272.5" x2="1138.1" y2="272.5" stroke="#fff" stroke-width="2.5"/>
<circle cx="1127" cy="312.5" r="6" fill="#c8a032"/>
<circle cx="1127" cy="312.5" r="4" fill="#7a7548"/>
<line x1="1124.5" y1="312.5" x2="1134" y2="312.5" stroke="#9c9c9c" stroke-width="2.5" stroke-linecap="round"/>
<line x1="1133.3" y1="312.5" x2="1135.6" y2="312.5" stroke="#fff" stroke-width="2.5"/>
<circle cx="1124" cy="352" r="6" fill="#c8a032"/>
<circle cx="1124" cy="352" r="4" fill="#7a7548"/>
<line x1="1121.5" y1="352" x2="1131" y2="352" stroke="#9c9c9c" stroke-width="2.5" stroke-linecap="round"/>
<line x1="1130.3" y1="352" x2="1132.6" y2="352" stroke="#fff" stroke-width="2.5"/>
<circle cx="910" cy="261" r="8" fill="#c8a032"/>
<circle cx="910" cy="261" r="4" fill="#77724a"/>
<line x1="910" y1="261" x2="894" y2="261" stroke="#d4d4d4" stroke-width="2.4" stroke-linecap="round"/>
<circle cx="928" cy="261" r="8" fill="#c8a032"/>
<circle cx="928" cy="261" r="4" fill="#77724a"/>
<line x1="928" y1="261" x2="941" y2="261" stroke="#d4d4d4" stroke-width="2.4" stroke-linecap="round"/>
<circle cx="937" cy="284" r="5.5" fill="#c8a032"/>
<circle cx="937" cy="284" r="3.6" fill="#7a7548"/>
<line x1="935.6" y1="284" x2="941" y2="284" stroke="#9c9c9c" stroke-width="3" stroke-linecap="round"/>
<line x1="940.2" y1="284" x2="942.9" y2="284" stroke="#fff" stroke-width="3"/>
<circle cx="951" cy="284" r="5.5" fill="#c8a032"/>
<circle cx="951" cy="284" r="3.6" fill="#7a7548"/>
<line x1="949.6" y1="284" x2="955" y2="284" stroke="#9c9c9c" stroke-width="3" stroke-linecap="round"/>
<line x1="954.2" y1="284" x2="956.9" y2="284" stroke="#fff" stroke-width="3"/>
<circle cx="981" cy="287.5" r="6" fill="#c8a032"/>
<circle cx="981" cy="287.5" r="4" fill="#7a7548"/>
<line x1="979.2" y1="287.5" x2="986" y2="287.5" stroke="#9c9c9c" stroke-width="2.5" stroke-linecap="round"/>
<line x1="985.3" y1="287.5" x2="987.6" y2="287.5" stroke="#fff" stroke-width="2.5"/>
<circle cx="980.5" cy="307" r="6" fill="#c8a032"/>
<circle cx="980.5" cy="307" r="4" fill="#7a7548"/>
<line x1="978.8" y1="307" x2="985.5" y2="307" stroke="#9c9c9c" stroke-width="2.5" stroke-linecap="round"/>
<line x1="984.8" y1="307" x2="987.1" y2="307" stroke="#fff" stroke-width="2.5"/>
<circle cx="980" cy="324.5" r="6" fill="#c8a032"/>
<circle cx="980" cy="324.5" r="4" fill="#7a7548"/>
<line x1="978.2" y1="324.5" x2="985" y2="324.5" stroke="#9c9c9c" stroke-width="2.5" stroke-linecap="round"/>
<line x1="984.3" y1="324.5" x2="986.6" y2="324.5" stroke="#fff" stroke-width="2.5"/>
<circle cx="936" cy="324" r="6" fill="#c8a032"/>
<circle cx="936" cy="324" r="4" fill="#7a7548"/>
<line x1="934.6" y1="324" x2="940" y2="324" stroke="#9c9c9c" stroke-width="3.3" stroke-linecap="round"/>
<line x1="939.1" y1="324" x2="942.1" y2="324" stroke="#fff" stroke-width="3.3"/>
<circle cx="954" cy="324" r="6" fill="#c8a032"/>
<circle cx="954" cy="324" r="4" fill="#7a7548"/>
<line x1="952.6" y1="324" x2="958" y2="324" stroke="#9c9c9c" stroke-width="3.3" stroke-linecap="round"/>
<line x1="957.1" y1="324" x2="960.1" y2="324" stroke="#fff" stroke-width="3.3"/>
<circle cx="83" cy="387.5" r="9.5" fill="#c8a032"/>
<circle cx="83" cy="387.5" r="5.2" fill="#7a7548"/>
<line x1="83" y1="387.5" x2="72" y2="390.5" stroke="#9c9c9c" stroke-width="7.6" stroke-linecap="round"/>
<circle cx="72" cy="390.5" r="4.7" fill="#fff"/>
<circle cx="86" cy="428" r="9.5" fill="#c8a032"/>
<circle cx="86" cy="428" r="5.2" fill="#7a7548"/>
<line x1="86" y1="428" x2="75" y2="432" stroke="#9c9c9c" stroke-width="7.6" stroke-linecap="round"/>
<circle cx="75" cy="432" r="4.7" fill="#fff"/>
<circle cx="155.5" cy="443" r="6" fill="#c8a032"/>
<circle cx="155.5" cy="443" r="4" fill="#7a7548"/>
<line x1="157.2" y1="442.3" x2="150.5" y2="445" stroke="#9c9c9c" stroke-width="2.5" stroke-linecap="round"/>
<line x1="151.1" y1="444.7" x2="149" y2="445.6" stroke="#fff" stroke-width="2.5"/>
<circle cx="157" cy="459" r="6" fill="#c8a032"/>
<circle cx="157" cy="459" r="4" fill="#7a7548"/>
<line x1="158.8" y1="458.3" x2="152" y2="461" stroke="#9c9c9c" stroke-width="2.5" stroke-linecap="round"/>
<line x1="152.6" y1="460.7" x2="150.5" y2="461.6" stroke="#fff" stroke-width="2.5"/>
<circle cx="195.5" cy="439" r="9" fill="#c8a032"/>
<circle cx="195.5" cy="439" r="3.4" fill="#6f6c3c"/>
<circle cx="197" cy="459" r="8.5" fill="#c8a032"/>
<circle cx="197" cy="459" r="4.7" fill="#7a7548"/>
<line x1="200.2" y1="457.2" x2="188" y2="464" stroke="#9c9c9c" stroke-width="4.9" stroke-linecap="round"/>
<line x1="188.9" y1="463.5" x2="185.9" y2="465.2" stroke="#fff" stroke-width="4.9"/>
<rect x="190" y="471" width="16" height="16" fill="#c8a032" transform="rotate(1.7 198 479)"/>
<circle cx="198" cy="479" r="3" fill="#6f6c3c"/>
<circle cx="241" cy="419" r="7" fill="#c8a032"/>
<circle cx="241" cy="419" r="3.9" fill="#7a7548"/>
<line x1="242.1" y1="418.6" x2="238" y2="420" stroke="#9c9c9c" stroke-width="4.1" stroke-linecap="round"/>
<line x1="239" y1="419.7" x2="235.7" y2="420.8" stroke="#fff" stroke-width="4.1"/>
<circle cx="242" cy="439" r="7" fill="#c8a032"/>
<circle cx="242" cy="439" r="3.9" fill="#7a7548"/>
<line x1="243.1" y1="438.6" x2="239" y2="440" stroke="#9c9c9c" stroke-width="4.1" stroke-linecap="round"/>
<line x1="240" y1="439.7" x2="236.7" y2="440.8" stroke="#fff" stroke-width="4.1"/>
<circle cx="295" cy="434" r="8" fill="#c8a032"/>
<circle cx="295" cy="434" r="4.4" fill="#8f8f8f"/>
<rect x="289.2" y="432.4" width="5.8" height="5.1" fill="#f0f0f0"/>
<circle cx="89.5" cy="520" r="9.5" fill="#c8a032"/>
<circle cx="89.5" cy="520" r="5.2" fill="#7a7548"/>
<line x1="91.2" y1="519" x2="84.5" y2="523" stroke="#9c9c9c" stroke-width="5.5" stroke-linecap="round"/>
<line x1="85.4" y1="522.5" x2="82.4" y2="524.3" stroke="#fff" stroke-width="5.5"/>
<circle cx="132.5" cy="519" r="9.5" fill="#c8a032"/>
<circle cx="132.5" cy="519" r="5.2" fill="#7a7548"/>
<line x1="134.2" y1="518" x2="127.5" y2="522" stroke="#9c9c9c" stroke-width="5.5" stroke-linecap="round"/>
<line x1="128.4" y1="521.5" x2="125.4" y2="523.3" stroke="#fff" stroke-width="5.5"/>
<circle cx="180" cy="487" r="8" fill="#c8a032"/>
<circle cx="180" cy="487" r="4.4" fill="#7a7548"/>
<line x1="183.2" y1="484.9" x2="171" y2="493" stroke="#9c9c9c" stroke-width="4.6" stroke-linecap="round"/>
<line x1="171.9" y1="492.4" x2="169" y2="494.4" stroke="#fff" stroke-width="4.6"/>
<circle cx="180.5" cy="506" r="8" fill="#c8a032"/>
<circle cx="180.5" cy="506" r="4.4" fill="#7a7548"/>
<line x1="183.7" y1="503.9" x2="171.5" y2="512" stroke="#9c9c9c" stroke-width="4.6" stroke-linecap="round"/>
<line x1="172.4" y1="511.4" x2="169.5" y2="513.4" stroke="#fff" stroke-width="4.6"/>
<rect x="175" y="518" width="15" height="15" fill="#c8a032" transform="rotate(1.7 182.5 525.5)"/>
<circle cx="182.5" cy="525.5" r="4.1" fill="#7a7548"/>
<line x1="185.7" y1="523.4" x2="173.5" y2="531.5" stroke="#9c9c9c" stroke-width="4.3" stroke-linecap="round"/>
<line x1="174.4" y1="530.9" x2="171.5" y2="532.9" stroke="#fff" stroke-width="4.3"/>
<rect x="211.5" y="478" width="16" height="16" fill="#c8a032" transform="rotate(1.7 219.5 486)"/>
<circle cx="219.5" cy="486" r="4.4" fill="#7a7548"/>
<line x1="222.7" y1="483.9" x2="210.5" y2="492" stroke="#9c9c9c" stroke-width="4.6" stroke-linecap="round"/>
<line x1="211.4" y1="491.4" x2="208.5" y2="493.4" stroke="#fff" stroke-width="4.6"/>
<circle cx="240" cy="485.5" r="8" fill="#c8a032"/>
<circle cx="240" cy="485.5" r="4.4" fill="#7a7548"/>
<line x1="242.8" y1="483.4" x2="232" y2="491.5" stroke="#9c9c9c" stroke-width="4.6" stroke-linecap="round"/>
<line x1="232.8" y1="490.9" x2="230" y2="493" stroke="#fff" stroke-width="4.6"/>
<circle cx="261" cy="485" r="8" fill="#c8a032"/>
<circle cx="261" cy="485" r="4.4" fill="#7a7548"/>
<line x1="263.8" y1="482.9" x2="253" y2="491" stroke="#9c9c9c" stroke-width="4.6" stroke-linecap="round"/>
<line x1="253.8" y1="490.4" x2="251" y2="492.5" stroke="#fff" stroke-width="4.6"/>
<circle cx="297.5" cy="485" r="7" fill="#c8a032"/>
<circle cx="297.5" cy="485" r="3.9" fill="#7a7548"/>
<line x1="298.2" y1="484.6" x2="295.5" y2="486" stroke="#9c9c9c" stroke-width="4.1" stroke-linecap="round"/>
<line x1="296.4" y1="485.5" x2="293.3" y2="487.1" stroke="#fff" stroke-width="4.1"/>
<circle cx="255" cy="543" r="6.5" fill="#c8a032"/>
<circle cx="255" cy="543" r="4.3" fill="#7a7548"/>
<line x1="256.1" y1="541.6" x2="252" y2="547" stroke="#9c9c9c" stroke-width="2.7" stroke-linecap="round"/>
<line x1="252.4" y1="546.4" x2="251" y2="548.4" stroke="#fff" stroke-width="2.7"/>
<circle cx="275.5" cy="543" r="6.5" fill="#c8a032"/>
<circle cx="275.5" cy="543" r="4.3" fill="#7a7548"/>
<line x1="276.6" y1="541.6" x2="272.5" y2="547" stroke="#9c9c9c" stroke-width="2.7" stroke-linecap="round"/>
<line x1="272.9" y1="546.4" x2="271.5" y2="548.4" stroke="#fff" stroke-width="2.7"/>
<circle cx="171" cy="557" r="8" fill="#c8a032"/>
<circle cx="171" cy="557" r="4.4" fill="#7a7548"/>
<line x1="174.2" y1="554.9" x2="162" y2="563" stroke="#9c9c9c" stroke-width="4.6" stroke-linecap="round"/>
<line x1="162.9" y1="562.4" x2="160" y2="564.4" stroke="#fff" stroke-width="4.6"/>
<circle cx="192.5" cy="557" r="8" fill="#c8a032"/>
<circle cx="192.5" cy="557" r="4.4" fill="#7a7548"/>
<line x1="195.7" y1="554.9" x2="183.5" y2="563" stroke="#9c9c9c" stroke-width="4.6" stroke-linecap="round"/>
<line x1="184.4" y1="562.4" x2="181.5" y2="564.4" stroke="#fff" stroke-width="4.6"/>
<rect x="206.5" y="548.5" width="15" height="15" fill="#c8a032" transform="rotate(1.7 214 556)"/>
<circle cx="214" cy="556" r="4.1" fill="#7a7548"/>
<line x1="217.2" y1="553.9" x2="205" y2="562" stroke="#9c9c9c" stroke-width="4.3" stroke-linecap="round"/>
<line x1="205.9" y1="561.4" x2="203" y2="563.4" stroke="#fff" stroke-width="4.3"/>
<rect x="423" y="372.5" width="15" height="15" fill="#c8a032" transform="rotate(1.7 430.5 380)"/>
<circle cx="430.5" cy="380" r="3.8" fill="#a98a2a"/>
<rect x="427.1" y="378.3" width="4.2" height="4.2" fill="#f2e21c"/>
<rect x="471.5" y="371.5" width="15" height="15" fill="#c8a032" transform="rotate(1.7 479 379)"/>
<circle cx="479" cy="379" r="3.8" fill="#a98a2a"/>
<rect x="476" y="377.3" width="4.2" height="4.2" fill="#f2e21c"/>
<rect x="399.5" y="404.5" width="15" height="15" fill="#c8a032" transform="rotate(1.7 407 412)"/>
<circle cx="407" cy="412" r="3.8" fill="#a98a2a"/>
<rect x="403.4" y="410.5" width="4.2" height="4.2" fill="#f2e21c"/>
<rect x="442.5" y="403.5" width="15" height="15" fill="#c8a032" transform="rotate(1.7 450 411)"/>
<circle cx="450" cy="411" r="3.8" fill="#a98a2a"/>
<rect x="446.7" y="409.5" width="4.2" height="4.2" fill="#f2e21c"/>
<rect x="378.5" y="425" width="15" height="15" fill="#c8a032" transform="rotate(1.7 386 432.5)"/>
<circle cx="386" cy="432.5" r="3.8" fill="#a98a2a"/>
<rect x="382.2" y="431.2" width="4.2" height="4.2" fill="#f2e21c"/>
<rect x="466.5" y="424.5" width="15" height="15" fill="#c8a032" transform="rotate(1.7 474 432)"/>
<circle cx="474" cy="432" r="3.8" fill="#a98a2a"/>
<rect x="470.9" y="430.7" width="4.2" height="4.2" fill="#f2e21c"/>
<circle cx="317" cy="434" r="8" fill="#c8a032"/>
<circle cx="317" cy="434" r="4.4" fill="#8f8f8f"/>
<rect x="311.3" y="432.5" width="5.8" height="5.1" fill="#f0f0f0"/>
<circle cx="336" cy="433" r="8" fill="#c8a032"/>
<circle cx="336" cy="433" r="4.4" fill="#8f8f8f"/>
<rect x="330.4" y="431.5" width="5.8" height="5.1" fill="#f0f0f0"/>
<circle cx="340" cy="484" r="7" fill="#c8a032"/>
<circle cx="340" cy="484" r="3.9" fill="#7a7548"/>
<line x1="340.7" y1="483.3" x2="338" y2="486" stroke="#9c9c9c" stroke-width="4.1" stroke-linecap="round"/>
<line x1="338.7" y1="485.3" x2="336.3" y2="487.7" stroke="#fff" stroke-width="4.1"/>
<circle cx="572.5" cy="419.5" r="6" fill="#c8a032"/>
<circle cx="572.5" cy="419.5" r="3.3" fill="#8f8f8f"/>
<rect x="570.1" y="418.3" width="4.3" height="3.8" fill="#f0f0f0"/>
<circle cx="592" cy="419" r="6" fill="#c8a032"/>
<circle cx="592" cy="419" r="3.3" fill="#8f8f8f"/>
<rect x="589.8" y="417.8" width="4.3" height="3.8" fill="#f0f0f0"/>
<circle cx="575" cy="456" r="5.5" fill="#c8a032"/>
<circle cx="575" cy="456" r="3.6" fill="#7a7548"/>
<line x1="575" y1="455.3" x2="575" y2="458" stroke="#9c9c9c" stroke-width="3" stroke-linecap="round"/>
<line x1="575" y1="457.2" x2="575" y2="459.9" stroke="#fff" stroke-width="3"/>
<circle cx="590" cy="456" r="5.5" fill="#c8a032"/>
<circle cx="590" cy="456" r="3.6" fill="#7a7548"/>
<line x1="590" y1="455.3" x2="590" y2="458" stroke="#9c9c9c" stroke-width="3" stroke-linecap="round"/>
<line x1="590" y1="457.2" x2="590" y2="459.9" stroke="#fff" stroke-width="3"/>
<circle cx="519" cy="469.5" r="7" fill="#c8a032"/>
<circle cx="519" cy="469.5" r="3.9" fill="#7a7548"/>
<line x1="519" y1="467.4" x2="519" y2="475.5" stroke="#9c9c9c" stroke-width="4.1" stroke-linecap="round"/>
<line x1="519" y1="474.4" x2="519" y2="477.9" stroke="#fff" stroke-width="4.1"/>
<circle cx="538" cy="469" r="7" fill="#c8a032"/>
<circle cx="538" cy="469" r="3.9" fill="#7a7548"/>
<line x1="538" y1="466.9" x2="538" y2="475" stroke="#9c9c9c" stroke-width="4.1" stroke-linecap="round"/>
<line x1="538" y1="473.9" x2="538" y2="477.4" stroke="#fff" stroke-width="4.1"/>
<rect x="550.5" y="461" width="14" height="14" fill="#c8a032" transform="rotate(1.7 557.5 468)"/>
<circle cx="557.5" cy="468" r="3.9" fill="#7a7548"/>
<line x1="557.5" y1="465.9" x2="557.5" y2="474" stroke="#9c9c9c" stroke-width="4.1" stroke-linecap="round"/>
<line x1="557.5" y1="472.9" x2="557.5" y2="476.4" stroke="#fff" stroke-width="4.1"/>
<rect x="505.5" y="502" width="15" height="15" fill="#c8a032" transform="rotate(1.7 513 509.5)"/>
<circle cx="513" cy="509.5" r="4.1" fill="#7a7548"/>
<line x1="513" y1="507.1" x2="513" y2="516.5" stroke="#9c9c9c" stroke-width="4.3" stroke-linecap="round"/>
<line x1="513" y1="515.5" x2="513" y2="519" stroke="#fff" stroke-width="4.3"/>
<circle cx="533" cy="509" r="7.5" fill="#c8a032"/>
<circle cx="533" cy="509" r="4.1" fill="#7a7548"/>
<line x1="533" y1="506.6" x2="533" y2="516" stroke="#9c9c9c" stroke-width="4.3" stroke-linecap="round"/>
<line x1="533" y1="515" x2="533" y2="518.5" stroke="#fff" stroke-width="4.3"/>
<circle cx="552" cy="508" r="7.5" fill="#c8a032"/>
<circle cx="552" cy="508" r="4.1" fill="#7a7548"/>
<line x1="552" y1="505.6" x2="552" y2="515" stroke="#9c9c9c" stroke-width="4.3" stroke-linecap="round"/>
<line x1="552" y1="514" x2="552" y2="517.5" stroke="#fff" stroke-width="4.3"/>
<circle cx="437.5" cy="544" r="8" fill="#c8a032"/>
<circle cx="437.5" cy="544" r="4" fill="#a98a2a"/>
<rect x="434.1" y="543.7" width="4.2" height="4.2" fill="#f2e21c"/>
<circle cx="840" cy="417.5" r="6" fill="#c8a032"/>
<circle cx="840" cy="417.5" r="4" fill="#7a7548"/>
<line x1="838.2" y1="416.8" x2="845" y2="419.5" stroke="#9c9c9c" stroke-width="2.5" stroke-linecap="round"/>
<line x1="844.4" y1="419.2" x2="846.5" y2="420.1" stroke="#fff" stroke-width="2.5"/>
<circle cx="857.5" cy="417.5" r="6" fill="#c8a032"/>
<circle cx="857.5" cy="417.5" r="4" fill="#7a7548"/>
<line x1="855.8" y1="416.8" x2="862.5" y2="419.5" stroke="#9c9c9c" stroke-width="2.5" stroke-linecap="round"/>
<line x1="861.9" y1="419.2" x2="864" y2="420.1" stroke="#fff" stroke-width="2.5"/>
<circle cx="842" cy="456" r="5" fill="#c8a032"/>
<circle cx="842" cy="456" r="3.3" fill="#7a7548"/>
<line x1="840.6" y1="455.3" x2="846" y2="458" stroke="#9c9c9c" stroke-width="2.8" stroke-linecap="round"/>
<line x1="845.3" y1="457.7" x2="847.5" y2="458.8" stroke="#fff" stroke-width="2.8"/>
<circle cx="856" cy="456" r="5" fill="#c8a032"/>
<circle cx="856" cy="456" r="3.3" fill="#7a7548"/>
<line x1="854.6" y1="455.3" x2="860" y2="458" stroke="#9c9c9c" stroke-width="2.8" stroke-linecap="round"/>
<line x1="859.3" y1="457.7" x2="861.5" y2="458.8" stroke="#fff" stroke-width="2.8"/>
<circle cx="642" cy="411" r="6.5" fill="#c8a032"/>
<circle cx="642" cy="411" r="4.3" fill="#7a7548"/>
<line x1="641" y1="409.6" x2="645" y2="415" stroke="#9c9c9c" stroke-width="2.7" stroke-linecap="round"/>
<line x1="644.6" y1="414.4" x2="646" y2="416.4" stroke="#fff" stroke-width="2.7"/>
<circle cx="642" cy="430.5" r="6.5" fill="#c8a032"/>
<circle cx="642" cy="430.5" r="4.3" fill="#7a7548"/>
<line x1="641" y1="429.1" x2="645" y2="434.5" stroke="#9c9c9c" stroke-width="2.7" stroke-linecap="round"/>
<line x1="644.6" y1="433.9" x2="646" y2="435.9" stroke="#fff" stroke-width="2.7"/>
<rect x="635.5" y="443" width="13" height="13" fill="#c8a032" transform="rotate(1.7 642 449.5)"/>
<circle cx="642" cy="449.5" r="4.3" fill="#7a7548"/>
<line x1="641" y1="447.8" x2="645" y2="454.5" stroke="#9c9c9c" stroke-width="2.7" stroke-linecap="round"/>
<line x1="644.6" y1="453.9" x2="645.9" y2="456" stroke="#fff" stroke-width="2.7"/>
<circle cx="683" cy="422" r="6.5" fill="#c8a032"/>
<circle cx="683" cy="422" r="4.3" fill="#7a7548"/>
<line x1="682" y1="421.3" x2="686" y2="424" stroke="#9c9c9c" stroke-width="3.6" stroke-linecap="round"/>
<line x1="685.2" y1="423.5" x2="687.9" y2="425.2" stroke="#fff" stroke-width="3.6"/>
<circle cx="702" cy="421" r="6.5" fill="#c8a032"/>
<circle cx="702" cy="421" r="4.3" fill="#7a7548"/>
<line x1="701" y1="420.3" x2="705" y2="423" stroke="#9c9c9c" stroke-width="3.6" stroke-linecap="round"/>
<line x1="704.2" y1="422.5" x2="706.9" y2="424.2" stroke="#fff" stroke-width="3.6"/>
<circle cx="683" cy="459" r="5.5" fill="#c8a032"/>
<circle cx="683" cy="459" r="3.6" fill="#7a7548"/>
<line x1="682.3" y1="458.3" x2="685" y2="461" stroke="#9c9c9c" stroke-width="3" stroke-linecap="round"/>
<line x1="684.4" y1="460.4" x2="686.3" y2="462.3" stroke="#fff" stroke-width="3"/>
<circle cx="697.5" cy="459" r="5.5" fill="#c8a032"/>
<circle cx="697.5" cy="459" r="3.6" fill="#7a7548"/>
<line x1="696.8" y1="458.3" x2="699.5" y2="461" stroke="#9c9c9c" stroke-width="3" stroke-linecap="round"/>
<line x1="698.9" y1="460.4" x2="700.8" y2="462.3" stroke="#fff" stroke-width="3"/>
<circle cx="732.5" cy="420.5" r="6.5" fill="#c8a032"/>
<circle cx="732.5" cy="420.5" r="4.3" fill="#7a7548"/>
<line x1="731.5" y1="419.8" x2="735.5" y2="422.5" stroke="#9c9c9c" stroke-width="3.6" stroke-linecap="round"/>
<line x1="734.7" y1="422" x2="737.4" y2="423.7" stroke="#fff" stroke-width="3.6"/>
<circle cx="732" cy="439" r="6.5" fill="#c8a032"/>
<circle cx="732" cy="439" r="4.3" fill="#7a7548"/>
<line x1="731" y1="438.3" x2="735" y2="441" stroke="#9c9c9c" stroke-width="3.6" stroke-linecap="round"/>
<line x1="734.2" y1="440.5" x2="736.9" y2="442.2" stroke="#fff" stroke-width="3.6"/>
<circle cx="732" cy="458" r="6.5" fill="#c8a032"/>
<circle cx="732" cy="458" r="4.3" fill="#7a7548"/>
<line x1="731" y1="457.3" x2="735" y2="460" stroke="#9c9c9c" stroke-width="3.6" stroke-linecap="round"/>
<line x1="734.2" y1="459.5" x2="736.9" y2="461.2" stroke="#fff" stroke-width="3.6"/>
<circle cx="787.5" cy="465" r="6.5" fill="#c8a032"/>
<circle cx="787.5" cy="465" r="4.3" fill="#7a7548"/>
<line x1="785.4" y1="463.2" x2="793.5" y2="470" stroke="#9c9c9c" stroke-width="2.7" stroke-linecap="round"/>
<line x1="792.9" y1="469.5" x2="794.8" y2="471.1" stroke="#fff" stroke-width="2.7"/>
<circle cx="805.5" cy="464.5" r="6.5" fill="#c8a032"/>
<circle cx="805.5" cy="464.5" r="4.3" fill="#7a7548"/>
<line x1="803.4" y1="462.8" x2="811.5" y2="469.5" stroke="#9c9c9c" stroke-width="2.7" stroke-linecap="round"/>
<line x1="810.9" y1="469" x2="812.8" y2="470.6" stroke="#fff" stroke-width="2.7"/>
<rect x="817" y="458" width="12" height="12" fill="#c8a032" transform="rotate(1.7 823 464)"/>
<circle cx="823" cy="464" r="4" fill="#7a7548"/>
<line x1="820.2" y1="461.9" x2="831" y2="470" stroke="#9c9c9c" stroke-width="2.5" stroke-linecap="round"/>
<line x1="830.5" y1="469.6" x2="832.3" y2="471" stroke="#fff" stroke-width="2.5"/>
<circle cx="771" cy="500" r="6.5" fill="#c8a032"/>
<circle cx="771" cy="500" r="2.5" fill="#6f6c3c"/>
<circle cx="789.5" cy="499" r="6" fill="#c8a032"/>
<circle cx="789.5" cy="499" r="4" fill="#7a7548"/>
<line x1="787.4" y1="496.6" x2="795.5" y2="506" stroke="#9c9c9c" stroke-width="2.5" stroke-linecap="round"/>
<line x1="795.1" y1="505.5" x2="796.5" y2="507.2" stroke="#fff" stroke-width="2.5"/>
<rect x="801.5" y="493" width="12" height="12" fill="#c8a032" transform="rotate(1.7 807.5 499)"/>
<circle cx="807.5" cy="499" r="2.3" fill="#6f6c3c"/>
<circle cx="910.5" cy="412" r="7" fill="#c8a032"/>
<circle cx="910.5" cy="412" r="3.9" fill="#7a7548"/>
<line x1="907.4" y1="410.6" x2="919.5" y2="416" stroke="#9c9c9c" stroke-width="4.1" stroke-linecap="round"/>
<line x1="918.5" y1="415.6" x2="921.7" y2="417" stroke="#fff" stroke-width="4.1"/>
<circle cx="932.5" cy="412" r="6" fill="#c8a032"/>
<circle cx="932.5" cy="412" r="4" fill="#7a7548"/>
<line x1="930.8" y1="411.3" x2="937.5" y2="414" stroke="#9c9c9c" stroke-width="2.5" stroke-linecap="round"/>
<line x1="936.9" y1="413.7" x2="939" y2="414.6" stroke="#fff" stroke-width="2.5"/>
<circle cx="950" cy="411" r="6" fill="#c8a032"/>
<circle cx="950" cy="411" r="4" fill="#7a7548"/>
<line x1="948.2" y1="410.3" x2="955" y2="413" stroke="#9c9c9c" stroke-width="2.5" stroke-linecap="round"/>
<line x1="954.4" y1="412.7" x2="956.5" y2="413.6" stroke="#fff" stroke-width="2.5"/>
<circle cx="910" cy="430" r="7" fill="#c8a032"/>
<circle cx="910" cy="430" r="3.9" fill="#7a7548"/>
<line x1="906.9" y1="428.6" x2="919" y2="434" stroke="#9c9c9c" stroke-width="4.1" stroke-linecap="round"/>
<line x1="918" y1="433.6" x2="921.2" y2="435" stroke="#fff" stroke-width="4.1"/>
<rect x="903" y="441.5" width="13" height="13" fill="#c8a032" transform="rotate(1.7 909.5 448)"/>
<circle cx="909.5" cy="448" r="4.3" fill="#7a7548"/>
<line x1="906.4" y1="446.6" x2="918.5" y2="452" stroke="#9c9c9c" stroke-width="2.7" stroke-linecap="round"/>
<line x1="917.8" y1="451.7" x2="920.1" y2="452.7" stroke="#fff" stroke-width="2.7"/>
<circle cx="932" cy="452.5" r="5" fill="#c8a032"/>
<circle cx="932" cy="452.5" r="3.3" fill="#7a7548"/>
<line x1="930.6" y1="451.4" x2="936" y2="455.5" stroke="#9c9c9c" stroke-width="2.1" stroke-linecap="round"/>
<line x1="935.5" y1="455.2" x2="937.1" y2="456.3" stroke="#fff" stroke-width="2.1"/>
<circle cx="946" cy="452.5" r="5" fill="#c8a032"/>
<circle cx="946" cy="452.5" r="3.3" fill="#7a7548"/>
<line x1="944.6" y1="451.4" x2="950" y2="455.5" stroke="#9c9c9c" stroke-width="2.1" stroke-linecap="round"/>
<line x1="949.5" y1="455.2" x2="951.1" y2="456.3" stroke="#fff" stroke-width="2.1"/>
<circle cx="975.5" cy="417" r="6" fill="#c8a032"/>
<circle cx="975.5" cy="417" r="4" fill="#7a7548"/>
<line x1="973.4" y1="416.3" x2="981.5" y2="419" stroke="#9c9c9c" stroke-width="2.5" stroke-linecap="round"/>
<line x1="980.9" y1="418.8" x2="983" y2="419.5" stroke="#fff" stroke-width="2.5"/>
<circle cx="974.5" cy="435" r="6" fill="#c8a032"/>
<circle cx="974.5" cy="435" r="4" fill="#7a7548"/>
<line x1="972.4" y1="434.3" x2="980.5" y2="437" stroke="#9c9c9c" stroke-width="2.5" stroke-linecap="round"/>
<line x1="979.9" y1="436.8" x2="982" y2="437.5" stroke="#fff" stroke-width="2.5"/>
<circle cx="974" cy="452.5" r="6" fill="#c8a032"/>
<circle cx="974" cy="452.5" r="4" fill="#7a7548"/>
<line x1="971.9" y1="451.8" x2="980" y2="454.5" stroke="#9c9c9c" stroke-width="2.5" stroke-linecap="round"/>
<line x1="979.4" y1="454.3" x2="981.5" y2="455" stroke="#fff" stroke-width="2.5"/>
<circle cx="1122" cy="396" r="6" fill="#c8a032"/>
<circle cx="1122" cy="396" r="4" fill="#7a7548"/>
<line x1="1119.2" y1="395.3" x2="1130" y2="398" stroke="#9c9c9c" stroke-width="2.5" stroke-linecap="round"/>
<line x1="1129.3" y1="397.8" x2="1131.5" y2="398.4" stroke="#fff" stroke-width="2.5"/>
<circle cx="1119.5" cy="432.5" r="6" fill="#c8a032"/>
<circle cx="1119.5" cy="432.5" r="4" fill="#7a7548"/>
<line x1="1116.7" y1="431.8" x2="1127.5" y2="434.5" stroke="#9c9c9c" stroke-width="2.5" stroke-linecap="round"/>
<line x1="1126.8" y1="434.3" x2="1129" y2="434.9" stroke="#fff" stroke-width="2.5"/>
<circle cx="1117.5" cy="469.5" r="6" fill="#c8a032"/>
<circle cx="1117.5" cy="469.5" r="4" fill="#7a7548"/>
<line x1="1114.7" y1="468.8" x2="1125.5" y2="471.5" stroke="#9c9c9c" stroke-width="2.5" stroke-linecap="round"/>
<line x1="1124.8" y1="471.3" x2="1127" y2="471.9" stroke="#fff" stroke-width="2.5"/>
<circle cx="1115" cy="505.5" r="6" fill="#c8a032"/>
<circle cx="1115" cy="505.5" r="4" fill="#7a7548"/>
<line x1="1112.2" y1="504.4" x2="1123" y2="508.5" stroke="#9c9c9c" stroke-width="2.5" stroke-linecap="round"/>
<line x1="1122.4" y1="508.3" x2="1124.5" y2="509.1" stroke="#fff" stroke-width="2.5"/>
<circle cx="1091" cy="546" r="7" fill="#c8a032"/>
<circle cx="1091" cy="546" r="2.7" fill="#6f6c3c"/>
<rect x="1100.5" y="537.5" width="14" height="14" fill="#c8a032" transform="rotate(1.7 1107.5 544.5)"/>
<circle cx="1107.5" cy="544.5" r="2.7" fill="#6f6c3c"/>
<rect x="950.5" y="532" width="10" height="19" rx="5" fill="#c8a032" transform="rotate(2.5 955.5 541.5)"/>
<circle cx="955.5" cy="541.5" r="2.4" fill="#6f6c3c"/>
<rect x="967" y="532" width="10" height="19" rx="5" fill="#c8a032" transform="rotate(2.5 972 541.5)"/>
<circle cx="972" cy="541.5" r="2.4" fill="#6f6c3c"/>
<rect x="984" y="532" width="10" height="19" rx="5" fill="#c8a032" transform="rotate(2.5 989 541.5)"/>
<circle cx="989" cy="541.5" r="2.4" fill="#6f6c3c"/>
<rect x="1001" y="531.5" width="10" height="19" rx="5" fill="#c8a032" transform="rotate(2.5 1006 541)"/>
<circle cx="1006" cy="541" r="2.4" fill="#6f6c3c"/>
<rect x="1017.5" y="531.5" width="10" height="19" rx="5" fill="#c8a032" transform="rotate(2.5 1022.5 541)"/>
<circle cx="1022.5" cy="541" r="2.4" fill="#6f6c3c"/>
<rect x="947.5" y="584.5" width="10" height="19" rx="5" fill="#c8a032" transform="rotate(2.5 952.5 594)"/>
<circle cx="952.5" cy="594" r="2.4" fill="#6f6c3c"/>
<rect x="964.5" y="584" width="10" height="19" rx="5" fill="#c8a032" transform="rotate(2.5 969.5 593.5)"/>
<circle cx="969.5" cy="593.5" r="2.4" fill="#6f6c3c"/>
<rect x="982" y="583.5" width="10" height="19" rx="5" fill="#c8a032" transform="rotate(2.5 987 593)"/>
<circle cx="987" cy="593" r="2.4" fill="#6f6c3c"/>
<rect x="998" y="583" width="10" height="19" rx="5" fill="#c8a032" transform="rotate(2.5 1003 592.5)"/>
<circle cx="1003" cy="592.5" r="2.4" fill="#6f6c3c"/>
<rect x="1015" y="582.5" width="10" height="19" rx="5" fill="#c8a032" transform="rotate(2.5 1020 592)"/>
<circle cx="1020" cy="592" r="2.4" fill="#6f6c3c"/>
<circle cx="98" cy="630" r="9" fill="#c8a032"/>
<circle cx="98" cy="630" r="5" fill="#7a7548"/>
<line x1="100.1" y1="627.9" x2="92" y2="636" stroke="#9c9c9c" stroke-width="5.2" stroke-linecap="round"/>
<line x1="92.7" y1="635.3" x2="90.3" y2="637.7" stroke="#fff" stroke-width="5.2"/>
<circle cx="140" cy="628" r="9" fill="#c8a032"/>
<circle cx="140" cy="628" r="5" fill="#7a7548"/>
<line x1="141.8" y1="625.9" x2="135" y2="634" stroke="#9c9c9c" stroke-width="5.2" stroke-linecap="round"/>
<line x1="135.7" y1="633.2" x2="133.4" y2="635.9" stroke="#fff" stroke-width="5.2"/>
<circle cx="245" cy="609.5" r="6.5" fill="#c8a032"/>
<circle cx="245" cy="609.5" r="4.3" fill="#7a7548"/>
<line x1="246.4" y1="607.8" x2="241" y2="614.5" stroke="#9c9c9c" stroke-width="2.7" stroke-linecap="round"/>
<line x1="241.5" y1="613.9" x2="239.9" y2="615.8" stroke="#fff" stroke-width="2.7"/>
<circle cx="246" cy="628.5" r="6.5" fill="#c8a032"/>
<circle cx="246" cy="628.5" r="4.3" fill="#7a7548"/>
<line x1="247.4" y1="626.8" x2="242" y2="633.5" stroke="#9c9c9c" stroke-width="2.7" stroke-linecap="round"/>
<line x1="242.5" y1="632.9" x2="240.9" y2="634.8" stroke="#fff" stroke-width="2.7"/>
<circle cx="247" cy="647" r="6.5" fill="#c8a032"/>
<circle cx="247" cy="647" r="4.3" fill="#7a7548"/>
<line x1="248.4" y1="645.2" x2="243" y2="652" stroke="#9c9c9c" stroke-width="2.7" stroke-linecap="round"/>
<line x1="243.5" y1="651.4" x2="241.9" y2="653.3" stroke="#fff" stroke-width="2.7"/>
<circle cx="344" cy="558" r="8.5" fill="#c8a032"/>
<circle cx="344" cy="558" r="4.7" fill="#7a7548"/>
<line x1="344.7" y1="556.2" x2="342" y2="563" stroke="#9c9c9c" stroke-width="4.9" stroke-linecap="round"/>
<line x1="342.4" y1="562" x2="341.1" y2="565.3" stroke="#fff" stroke-width="4.9"/>
<circle cx="345" cy="594" r="8.5" fill="#c8a032"/>
<circle cx="345" cy="594" r="4.7" fill="#7a7548"/>
<line x1="345.7" y1="592.2" x2="343" y2="599" stroke="#9c9c9c" stroke-width="4.9" stroke-linecap="round"/>
<line x1="343.4" y1="598" x2="342.1" y2="601.3" stroke="#fff" stroke-width="4.9"/>
<rect x="430" y="556" width="16" height="16" fill="#c8a032" transform="rotate(1.7 438 564)"/>
<circle cx="438" cy="564" r="4" fill="#a98a2a"/>
<rect x="434.6" y="563.8" width="4.2" height="4.2" fill="#f2e21c"/>
<circle cx="440.5" cy="641.5" r="10" fill="#c8a032"/>
<circle cx="440.5" cy="641.5" r="4.2" fill="#8a8a8a"/>
<path d="M440.5 637.3 a4.2 4.2 0 0 0 0 8.4 z" fill="#6a6a55"/>
<circle cx="697.5" cy="567" r="7.5" fill="#c8a032"/>
<circle cx="697.5" cy="567" r="2.9" fill="#6f6c3c"/>
<circle cx="804" cy="563" r="7.5" fill="#c8a032"/>
<circle cx="804" cy="563" r="2.9" fill="#6f6c3c"/>
<circle cx="701" cy="628" r="9.5" fill="#c8a032"/>
<circle cx="701" cy="628" r="4" fill="#8a8a8a"/>
<path d="M701 624 a4 4 0 0 0 0 8 z" fill="#6a6a55"/>
<circle cx="737.5" cy="628" r="6" fill="#c8a032"/>
<circle cx="737.5" cy="628" r="4" fill="#7a7548"/>
<line x1="736.5" y1="626.2" x2="740.5" y2="633" stroke="#9c9c9c" stroke-width="2.5" stroke-linecap="round"/>
<line x1="740.1" y1="632.4" x2="741.3" y2="634.4" stroke="#fff" stroke-width="2.5"/>
<circle cx="782" cy="626" r="6" fill="#c8a032"/>
<circle cx="782" cy="626" r="4" fill="#7a7548"/>
<line x1="781" y1="624.2" x2="785" y2="631" stroke="#9c9c9c" stroke-width="2.5" stroke-linecap="round"/>
<line x1="784.6" y1="630.4" x2="785.8" y2="632.4" stroke="#fff" stroke-width="2.5"/>
<circle cx="826" cy="623.5" r="6" fill="#c8a032"/>
<circle cx="826" cy="623.5" r="4" fill="#7a7548"/>
<line x1="824.6" y1="621.8" x2="830" y2="628.5" stroke="#9c9c9c" stroke-width="2.5" stroke-linecap="round"/>
<line x1="829.6" y1="628" x2="831" y2="629.7" stroke="#fff" stroke-width="2.5"/>
<circle cx="875" cy="621" r="6" fill="#c8a032"/>
<circle cx="875" cy="621" r="4" fill="#7a7548"/>
<line x1="873.6" y1="619.2" x2="879" y2="626" stroke="#9c9c9c" stroke-width="2.5" stroke-linecap="round"/>
<line x1="878.6" y1="625.5" x2="880" y2="627.2" stroke="#fff" stroke-width="2.5"/>
<circle cx="919" cy="619" r="6" fill="#c8a032"/>
<circle cx="919" cy="619" r="4" fill="#7a7548"/>
<line x1="917.2" y1="617.2" x2="924" y2="624" stroke="#9c9c9c" stroke-width="2.5" stroke-linecap="round"/>
<line x1="923.5" y1="623.5" x2="925.1" y2="625.1" stroke="#fff" stroke-width="2.5"/>
<circle cx="959" cy="616" r="6" fill="#c8a032"/>
<circle cx="959" cy="616" r="4" fill="#7a7548"/>
<line x1="957.2" y1="614.2" x2="964" y2="621" stroke="#9c9c9c" stroke-width="2.5" stroke-linecap="round"/>
<line x1="963.5" y1="620.5" x2="965.1" y2="622.1" stroke="#fff" stroke-width="2.5"/>
<circle cx="737" cy="663" r="6" fill="#c8a032"/>
<circle cx="737" cy="663" r="4" fill="#7a7548"/>
<line x1="736" y1="661.2" x2="740" y2="668" stroke="#9c9c9c" stroke-width="2.5" stroke-linecap="round"/>
<line x1="739.6" y1="667.4" x2="740.8" y2="669.4" stroke="#fff" stroke-width="2.5"/>
<circle cx="781.5" cy="660" r="6" fill="#c8a032"/>
<circle cx="781.5" cy="660" r="4" fill="#7a7548"/>
<line x1="780.5" y1="658.2" x2="784.5" y2="665" stroke="#9c9c9c" stroke-width="2.5" stroke-linecap="round"/>
<line x1="784.1" y1="664.4" x2="785.3" y2="666.4" stroke="#fff" stroke-width="2.5"/>
<circle cx="825.5" cy="657" r="6" fill="#c8a032"/>
<circle cx="825.5" cy="657" r="4" fill="#7a7548"/>
<line x1="824.1" y1="655.2" x2="829.5" y2="662" stroke="#9c9c9c" stroke-width="2.5" stroke-linecap="round"/>
<line x1="829.1" y1="661.5" x2="830.5" y2="663.2" stroke="#fff" stroke-width="2.5"/>
<circle cx="874" cy="655" r="6" fill="#c8a032"/>
<circle cx="874" cy="655" r="4" fill="#7a7548"/>
<line x1="872.6" y1="653.2" x2="878" y2="660" stroke="#9c9c9c" stroke-width="2.5" stroke-linecap="round"/>
<line x1="877.6" y1="659.5" x2="879" y2="661.2" stroke="#fff" stroke-width="2.5"/>
<circle cx="917.5" cy="652" r="6" fill="#c8a032"/>
<circle cx="917.5" cy="652" r="4" fill="#7a7548"/>
<line x1="915.8" y1="650.2" x2="922.5" y2="657" stroke="#9c9c9c" stroke-width="2.5" stroke-linecap="round"/>
<line x1="922" y1="656.5" x2="923.6" y2="658.1" stroke="#fff" stroke-width="2.5"/>
<circle cx="958" cy="650" r="6" fill="#c8a032"/>
<circle cx="958" cy="650" r="4" fill="#7a7548"/>
<line x1="956.2" y1="648.2" x2="963" y2="655" stroke="#9c9c9c" stroke-width="2.5" stroke-linecap="round"/>
<line x1="962.5" y1="654.5" x2="964.1" y2="656.1" stroke="#fff" stroke-width="2.5"/>
<rect x="985.5" y="617" width="14" height="14" fill="#c8a032" transform="rotate(1.7 992.5 624)"/>
<circle cx="992.5" cy="624" r="3.5" fill="#a98a2a"/>
<rect x="992.4" y="623.4" width="4.2" height="4.2" fill="#f2e21c"/>
<rect x="1004" y="615.5" width="14" height="14" fill="#c8a032" transform="rotate(1.7 1011 622.5)"/>
<circle cx="1011" cy="622.5" r="3.5" fill="#a98a2a"/>
<rect x="1011" y="621.9" width="4.2" height="4.2" fill="#f2e21c"/>
<line x1="178" y1="300.7" x2="190" y2="299.5" stroke="#cdcdcd" stroke-width="3.4"/>
<line x1="178" y1="321.7" x2="190" y2="320.5" stroke="#cdcdcd" stroke-width="3.4"/>
<line x1="186" y1="455" x2="197.5" y2="449.5" stroke="#cdcdcd" stroke-width="3.4"/>
<line x1="187.5" y1="475" x2="197.5" y2="468.7" stroke="#cdcdcd" stroke-width="3.4"/>
<line x1="784" y1="502" x2="797" y2="508.5" stroke="#cdcdcd" stroke-width="3.4"/>
<line x1="797" y1="500.5" x2="808" y2="507" stroke="#cdcdcd" stroke-width="3.4"/>
<line x1="896" y1="261" x2="941" y2="261" stroke="#d4d4d4" stroke-width="2.4"/>
<rect x="197.5" y="148" width="15.5" height="12.9" fill="#c8a032"/>
<rect x="197.5" y="174.1" width="15.5" height="12.9" fill="#c8a032"/>
<path d="M195 163.2 V146 H214.5 V163.2 M195 172.7 V189 H214.5 V172.7" fill="none" stroke="#fff" stroke-width="1.5"/>
<rect x="196.5" y="150.4" width="12.5" height="32.7" rx="4.4" fill="url(#cylV)"/>
<rect x="196.5" y="158.2" width="12.5" height="3.7" fill="#8a1010"/>
<rect x="196.5" y="161.6" width="12.5" height="3.7" fill="#e6d80e"/>
<rect x="196.5" y="165" width="12.5" height="3.7" fill="#3e7a14"/>
<rect x="196.5" y="168.4" width="12.5" height="3.7" fill="#6b6a12"/>
<rect x="196.5" y="171.8" width="12.5" height="3.7" fill="#8a1010"/>
<rect x="196.5" y="158.2" width="12.5" height="17" fill="url(#shadeV)"/>
<rect x="102.5" y="184" width="15" height="13.2" fill="#c8a032"/>
<rect x="102.5" y="210.8" width="15" height="13.2" fill="#c8a032"/>
<path d="M100 199.6 V182 H119 V199.6 M100 209.3 V226 H119 V209.3" fill="none" stroke="#fff" stroke-width="1.5"/>
<rect x="101" y="186.7" width="12.2" height="33.4" rx="4.3" fill="url(#cylV)"/>
<rect x="101" y="194.7" width="12.2" height="3.8" fill="#8a1010"/>
<rect x="101" y="198.2" width="12.2" height="3.8" fill="#6b6a12"/>
<rect x="101" y="201.7" width="12.2" height="3.8" fill="#3e7a14"/>
<rect x="101" y="205.1" width="12.2" height="3.8" fill="#e6d80e"/>
<rect x="101" y="208.6" width="12.2" height="3.8" fill="#8a1010"/>
<rect x="101" y="194.7" width="12.2" height="17.4" fill="url(#shadeV)"/>
<rect x="215.6" y="239.5" width="13.3" height="14.5" fill="#c8a032"/>
<rect x="242.7" y="239.5" width="13.3" height="14.5" fill="#c8a032"/>
<path d="M230.5 237 H213.6 V255.5 H230.5 M240.2 237 H258 V255.5 H240.2" fill="none" stroke="#fff" stroke-width="1.5"/>
<rect x="217.6" y="240" width="32.9" height="11.8" rx="4.1" fill="url(#cylH)"/>
<rect x="224.8" y="240" width="3.7" height="11.8" fill="#8a1010"/>
<rect x="228.2" y="240" width="3.7" height="11.8" fill="#e6d80e"/>
<rect x="231.6" y="240" width="3.7" height="11.8" fill="#3e7a14"/>
<rect x="235" y="240" width="3.7" height="11.8" fill="#6b6a12"/>
<rect x="238.4" y="240" width="3.7" height="11.8" fill="#8a1010"/>
<rect x="224.8" y="240" width="17.1" height="11.8" fill="url(#shadeH)"/>
<rect x="75" y="285.5" width="13.9" height="15.5" fill="#c8a032"/>
<rect x="103.5" y="285.5" width="13.9" height="15.5" fill="#c8a032"/>
<path d="M90.7 283 H73 V302.5 H90.7 M100.9 283 H119.5 V302.5 H100.9" fill="none" stroke="#fff" stroke-width="1.5"/>
<rect x="76.5" y="286.3" width="34.4" height="12.5" rx="4.4" fill="url(#cylH)"/>
<rect x="84.1" y="286.3" width="3.9" height="12.5" fill="#8a1010"/>
<rect x="87.7" y="286.3" width="3.9" height="12.5" fill="#e6d80e"/>
<rect x="91.3" y="286.3" width="3.9" height="12.5" fill="#3e7a14"/>
<rect x="94.8" y="286.3" width="3.9" height="12.5" fill="#6b6a12"/>
<rect x="98.4" y="286.3" width="3.9" height="12.5" fill="#8a1010"/>
<rect x="84.1" y="286.3" width="17.9" height="12.5" fill="url(#shadeH)"/>
<rect x="350" y="315" width="15.5" height="12" fill="#c8a032"/>
<rect x="350" y="339" width="15.5" height="12" fill="#c8a032"/>
<path d="M347.5 329 V313 H367 V329 M347.5 337.8 V353 H367 V337.8" fill="none" stroke="#fff" stroke-width="1.5"/>
<rect x="349.8" y="317.8" width="12.5" height="30.4" rx="4.4" fill="url(#cylV)"/>
<rect x="349.8" y="325.1" width="12.5" height="3.5" fill="#8a1010"/>
<rect x="349.8" y="328.2" width="12.5" height="3.5" fill="#6b6a12"/>
<rect x="349.8" y="331.4" width="12.5" height="3.5" fill="#3e7a14"/>
<rect x="349.8" y="334.5" width="12.5" height="3.5" fill="#e6d80e"/>
<rect x="349.8" y="337.7" width="12.5" height="3.5" fill="#8a1010"/>
<rect x="349.8" y="325.1" width="12.5" height="15.8" fill="url(#shadeV)"/>
<rect x="559" y="205" width="12.2" height="13.5" fill="#c8a032"/>
<rect x="583.4" y="205" width="12.2" height="13.5" fill="#c8a032"/>
<path d="M572.4 202.5 H557 V220 H572.4 M581.3 202.5 H597.5 V220 H581.3" fill="none" stroke="#fff" stroke-width="1.5"/>
<rect x="562.2" y="205.2" width="30" height="11.2" rx="3.9" fill="url(#cylH)"/>
<rect x="568.7" y="205.2" width="3.4" height="11.2" fill="#8a1010"/>
<rect x="571.9" y="205.2" width="3.4" height="11.2" fill="#e6d80e"/>
<rect x="575" y="205.2" width="3.4" height="11.2" fill="#3e7a14"/>
<rect x="578.1" y="205.2" width="3.4" height="11.2" fill="#6b6a12"/>
<rect x="581.2" y="205.2" width="3.4" height="11.2" fill="#8a1010"/>
<rect x="568.7" y="205.2" width="15.6" height="11.2" fill="url(#shadeH)"/>
<rect x="493.5" y="307" width="14.5" height="12.2" fill="#c8a032"/>
<rect x="493.5" y="331.4" width="14.5" height="12.2" fill="#c8a032"/>
<path d="M491 321.2 V305 H509.5 V321.2 M491 330.1 V345.5 H509.5 V330.1" fill="none" stroke="#fff" stroke-width="1.5"/>
<rect x="493.8" y="309.8" width="11.8" height="30.8" rx="4.1" fill="url(#cylV)"/>
<rect x="493.8" y="317.2" width="11.8" height="3.5" fill="#8a1010"/>
<rect x="493.8" y="320.4" width="11.8" height="3.5" fill="#e6d80e"/>
<rect x="493.8" y="323.6" width="11.8" height="3.5" fill="#3e7a14"/>
<rect x="493.8" y="326.8" width="11.8" height="3.5" fill="#6b6a12"/>
<rect x="493.8" y="330" width="11.8" height="3.5" fill="#8a1010"/>
<rect x="493.8" y="317.2" width="11.8" height="16" fill="url(#shadeV)"/>
<rect x="528" y="307" width="14.5" height="12.2" fill="#c8a032"/>
<rect x="528" y="331.4" width="14.5" height="12.2" fill="#c8a032"/>
<path d="M525.5 321.2 V305 H544 V321.2 M525.5 330.1 V345.5 H544 V330.1" fill="none" stroke="#fff" stroke-width="1.5"/>
<rect x="528.5" y="309.8" width="11.8" height="30.8" rx="4.1" fill="url(#cylV)"/>
<rect x="528.5" y="317.2" width="11.8" height="3.5" fill="#8a1010"/>
<rect x="528.5" y="320.4" width="11.8" height="3.5" fill="#e6d80e"/>
<rect x="528.5" y="323.6" width="11.8" height="3.5" fill="#3e7a14"/>
<rect x="528.5" y="326.8" width="11.8" height="3.5" fill="#6b6a12"/>
<rect x="528.5" y="330" width="11.8" height="3.5" fill="#8a1010"/>
<rect x="528.5" y="317.2" width="11.8" height="16" fill="url(#shadeV)"/>
<rect x="632.5" y="149.5" width="14" height="12.4" fill="#c8a032"/>
<rect x="632.5" y="174.6" width="14" height="12.4" fill="#c8a032"/>
<path d="M630 164.1 V147.5 H648 V164.1 M630 173.2 V189 H648 V173.2" fill="none" stroke="#fff" stroke-width="1.5"/>
<rect x="633.4" y="151.7" width="11.5" height="31.5" rx="4" fill="url(#cylV)"/>
<rect x="633.4" y="159.3" width="11.5" height="3.6" fill="#8a1010"/>
<rect x="633.4" y="162.6" width="11.5" height="3.6" fill="#6b6a12"/>
<rect x="633.4" y="165.9" width="11.5" height="3.6" fill="#3e7a14"/>
<rect x="633.4" y="169.1" width="11.5" height="3.6" fill="#e6d80e"/>
<rect x="633.4" y="172.4" width="11.5" height="3.6" fill="#8a1010"/>
<rect x="633.4" y="159.3" width="11.5" height="16.4" fill="url(#shadeV)"/>
<rect x="826" y="218" width="11.4" height="13" fill="#c8a032"/>
<rect x="848.6" y="218" width="11.4" height="13" fill="#c8a032"/>
<path d="M838.4 215.5 H824 V232.5 H838.4 M846.8 215.5 H862 V232.5 H846.8" fill="none" stroke="#fff" stroke-width="1.5"/>
<rect x="830.2" y="218.2" width="28.1" height="10.9" rx="3.8" fill="url(#cylH)"/>
<rect x="836.3" y="218.2" width="3.2" height="10.9" fill="#8a1010"/>
<rect x="839.3" y="218.2" width="3.2" height="10.9" fill="#e6d80e"/>
<rect x="842.2" y="218.2" width="3.2" height="10.9" fill="#3e7a14"/>
<rect x="845.1" y="218.2" width="3.2" height="10.9" fill="#6b6a12"/>
<rect x="848" y="218.2" width="3.2" height="10.9" fill="#8a1010"/>
<rect x="836.3" y="218.2" width="14.6" height="10.9" fill="url(#shadeH)"/>
<rect x="759.5" y="291.5" width="13" height="11.5" fill="#c8a032"/>
<rect x="759.5" y="314.4" width="13" height="11.5" fill="#c8a032"/>
<path d="M757 304.9 V289.5 H774 V304.9 M757 313.4 V328 H774 V313.4" fill="none" stroke="#fff" stroke-width="1.5"/>
<rect x="760.9" y="294" width="10.9" height="29.3" rx="3.8" fill="url(#cylV)"/>
<rect x="760.9" y="301" width="10.9" height="3.3" fill="#8a1010"/>
<rect x="760.9" y="304" width="10.9" height="3.3" fill="#e6d80e"/>
<rect x="760.9" y="307.1" width="10.9" height="3.3" fill="#3e7a14"/>
<rect x="760.9" y="310.1" width="10.9" height="3.3" fill="#6b6a12"/>
<rect x="760.9" y="313.2" width="10.9" height="3.3" fill="#8a1010"/>
<rect x="760.9" y="301" width="10.9" height="15.2" fill="url(#shadeV)"/>
<rect x="653" y="304" width="13.5" height="11.7" fill="#c8a032"/>
<rect x="653" y="327.3" width="13.5" height="11.7" fill="#c8a032"/>
<path d="M650.5 317.6 V302 H668 V317.6 M650.5 326.2 V341 H668 V326.2" fill="none" stroke="#fff" stroke-width="1.5"/>
<rect x="653.9" y="306.6" width="11.2" height="29.6" rx="3.9" fill="url(#cylV)"/>
<rect x="653.9" y="313.7" width="11.2" height="3.4" fill="#8a1010"/>
<rect x="653.9" y="316.8" width="11.2" height="3.4" fill="#e6d80e"/>
<rect x="653.9" y="319.9" width="11.2" height="3.4" fill="#3e7a14"/>
<rect x="653.9" y="323" width="11.2" height="3.4" fill="#6b6a12"/>
<rect x="653.9" y="326" width="11.2" height="3.4" fill="#8a1010"/>
<rect x="653.9" y="313.7" width="11.2" height="15.4" fill="url(#shadeV)"/>
<rect x="817" y="304" width="12.5" height="11.7" fill="#c8a032"/>
<rect x="817" y="327.3" width="12.5" height="11.7" fill="#c8a032"/>
<path d="M814.5 317.6 V302 H831 V317.6 M814.5 326.2 V341 H831 V326.2" fill="none" stroke="#fff" stroke-width="1.5"/>
<rect x="818.6" y="306.6" width="10.6" height="29.6" rx="3.7" fill="url(#cylV)"/>
<rect x="818.6" y="313.7" width="10.6" height="3.4" fill="#8a1010"/>
<rect x="818.6" y="316.8" width="10.6" height="3.4" fill="#6b6a12"/>
<rect x="818.6" y="319.9" width="10.6" height="3.4" fill="#3e7a14"/>
<rect x="818.6" y="323" width="10.6" height="3.4" fill="#e6d80e"/>
<rect x="818.6" y="326" width="10.6" height="3.4" fill="#8a1010"/>
<rect x="818.6" y="313.7" width="10.6" height="15.4" fill="url(#shadeV)"/>
<rect x="961" y="160.5" width="11.1" height="13" fill="#c8a032"/>
<rect x="982.9" y="160.5" width="11.1" height="13" fill="#c8a032"/>
<path d="M973.1 158 H959 V175 H973.1 M981.2 158 H996 V175 H981.2" fill="none" stroke="#fff" stroke-width="1.5"/>
<rect x="965.7" y="160.4" width="27.4" height="10.9" rx="3.8" fill="url(#cylH)"/>
<rect x="971.7" y="160.4" width="3.1" height="10.9" fill="#8a1010"/>
<rect x="974.6" y="160.4" width="3.1" height="10.9" fill="#e6d80e"/>
<rect x="977.4" y="160.4" width="3.1" height="10.9" fill="#3e7a14"/>
<rect x="980.3" y="160.4" width="3.1" height="10.9" fill="#6b6a12"/>
<rect x="983.1" y="160.4" width="3.1" height="10.9" fill="#8a1010"/>
<rect x="971.7" y="160.4" width="14.2" height="10.9" fill="url(#shadeH)"/>
<rect x="1112" y="209.5" width="10.5" height="13" fill="#c8a032"/>
<rect x="1132.5" y="209.5" width="10.5" height="13" fill="#c8a032"/>
<path d="M1123.3 207 H1110 V224 H1123.3 M1131 207 H1145 V224 H1131" fill="none" stroke="#fff" stroke-width="1.5"/>
<rect x="1117.2" y="209.6" width="25.9" height="10.9" rx="3.8" fill="url(#cylH)"/>
<rect x="1122.9" y="209.6" width="3" height="10.9" fill="#8a1010"/>
<rect x="1125.6" y="209.6" width="3" height="10.9" fill="#e6d80e"/>
<rect x="1128.3" y="209.6" width="3" height="10.9" fill="#3e7a14"/>
<rect x="1131" y="209.6" width="3" height="10.9" fill="#6b6a12"/>
<rect x="1133.7" y="209.6" width="3" height="10.9" fill="#8a1010"/>
<rect x="1122.9" y="209.6" width="13.5" height="10.9" fill="url(#shadeH)"/>
<rect x="944" y="232.5" width="10.8" height="13" fill="#c8a032"/>
<rect x="965.2" y="232.5" width="10.8" height="13" fill="#c8a032"/>
<path d="M955.7 230 H942 V247 H955.7 M963.6 230 H978 V247 H963.6" fill="none" stroke="#fff" stroke-width="1.5"/>
<rect x="948.5" y="232.7" width="26.6" height="10.9" rx="3.8" fill="url(#cylH)"/>
<rect x="954.3" y="232.7" width="3.1" height="10.9" fill="#8a1010"/>
<rect x="957.1" y="232.7" width="3.1" height="10.9" fill="#e6d80e"/>
<rect x="959.9" y="232.7" width="3.1" height="10.9" fill="#3e7a14"/>
<rect x="962.7" y="232.7" width="3.1" height="10.9" fill="#6b6a12"/>
<rect x="965.4" y="232.7" width="3.1" height="10.9" fill="#8a1010"/>
<rect x="954.3" y="232.7" width="13.9" height="10.9" fill="url(#shadeH)"/>
<rect x="901.5" y="309" width="13" height="11.1" fill="#c8a032"/>
<rect x="901.5" y="330.9" width="13" height="11.1" fill="#c8a032"/>
<path d="M899 321.8 V307 H916 V321.8 M899 329.9 V344 H916 V329.9" fill="none" stroke="#fff" stroke-width="1.5"/>
<rect x="903.6" y="311.4" width="10.9" height="28.1" rx="3.8" fill="url(#cylV)"/>
<rect x="903.6" y="318.1" width="10.9" height="3.2" fill="#8a1010"/>
<rect x="903.6" y="321" width="10.9" height="3.2" fill="#6b6a12"/>
<rect x="903.6" y="324" width="10.9" height="3.2" fill="#3e7a14"/>
<rect x="903.6" y="326.9" width="10.9" height="3.2" fill="#e6d80e"/>
<rect x="903.6" y="329.8" width="10.9" height="3.2" fill="#8a1010"/>
<rect x="903.6" y="318.1" width="10.9" height="14.6" fill="url(#shadeV)"/>
<rect x="90" y="488" width="13.3" height="13.5" fill="#c8a032"/>
<rect x="117.2" y="488" width="13.3" height="13.5" fill="#c8a032"/>
<path d="M104.9 485.5 H88 V503 H104.9 M114.7 485.5 H132.5 V503 H114.7" fill="none" stroke="#fff" stroke-width="1.5"/>
<rect x="91.3" y="489.2" width="32.9" height="11.2" rx="3.9" fill="url(#cylH)"/>
<rect x="98.6" y="489.2" width="3.7" height="11.2" fill="#8a1010"/>
<rect x="102" y="489.2" width="3.7" height="11.2" fill="#6b6a12"/>
<rect x="105.4" y="489.2" width="3.7" height="11.2" fill="#3e7a14"/>
<rect x="108.9" y="489.2" width="3.7" height="11.2" fill="#e6d80e"/>
<rect x="112.3" y="489.2" width="3.7" height="11.2" fill="#8a1010"/>
<rect x="98.6" y="489.2" width="17.1" height="11.2" fill="url(#shadeH)"/>
<rect x="244" y="518.5" width="12.8" height="14" fill="#c8a032"/>
<rect x="269.8" y="518.5" width="12.8" height="14" fill="#c8a032"/>
<path d="M258.1 516 H242 V534 H258.1 M267.5 516 H284.5 V534 H267.5" fill="none" stroke="#fff" stroke-width="1.5"/>
<rect x="245.8" y="519.9" width="31.5" height="11.5" rx="4" fill="url(#cylH)"/>
<rect x="252.8" y="519.9" width="3.6" height="11.5" fill="#8a1010"/>
<rect x="256" y="519.9" width="3.6" height="11.5" fill="#6b6a12"/>
<rect x="259.3" y="519.9" width="3.6" height="11.5" fill="#3e7a14"/>
<rect x="262.6" y="519.9" width="3.6" height="11.5" fill="#e6d80e"/>
<rect x="265.8" y="519.9" width="3.6" height="11.5" fill="#8a1010"/>
<rect x="252.8" y="519.9" width="16.4" height="11.5" fill="url(#shadeH)"/>
<rect x="126.5" y="537.5" width="18" height="12.2" fill="#c8a032"/>
<rect x="126.5" y="561.9" width="18" height="12.2" fill="#c8a032"/>
<path d="M124 551.7 V535.5 H146 V551.7 M124 560.6 V576 H146 V560.6" fill="none" stroke="#fff" stroke-width="1.5"/>
<rect x="125.6" y="541.3" width="14.1" height="30.8" rx="4.9" fill="url(#cylV)"/>
<rect x="125.6" y="548.7" width="14.1" height="3.5" fill="#8a1010"/>
<rect x="125.6" y="551.9" width="14.1" height="3.5" fill="#e6d80e"/>
<rect x="125.6" y="555.1" width="14.1" height="3.5" fill="#3e7a14"/>
<rect x="125.6" y="558.3" width="14.1" height="3.5" fill="#6b6a12"/>
<rect x="125.6" y="561.5" width="14.1" height="3.5" fill="#8a1010"/>
<rect x="125.6" y="548.7" width="14.1" height="16" fill="url(#shadeV)"/>
<rect x="236.5" y="554" width="14.5" height="11.4" fill="#c8a032"/>
<rect x="236.5" y="576.6" width="14.5" height="11.4" fill="#c8a032"/>
<path d="M234 567.2 V552 H252.5 V567.2 M234 575.6 V590 H252.5 V575.6" fill="none" stroke="#fff" stroke-width="1.5"/>
<rect x="235.5" y="557.6" width="11.8" height="28.9" rx="4.1" fill="url(#cylV)"/>
<rect x="235.5" y="564.5" width="11.8" height="3.3" fill="#8a1010"/>
<rect x="235.5" y="567.5" width="11.8" height="3.3" fill="#6b6a12"/>
<rect x="235.5" y="570.5" width="11.8" height="3.3" fill="#3e7a14"/>
<rect x="235.5" y="573.5" width="11.8" height="3.3" fill="#e6d80e"/>
<rect x="235.5" y="576.5" width="11.8" height="3.3" fill="#8a1010"/>
<rect x="235.5" y="564.5" width="11.8" height="15" fill="url(#shadeV)"/>
<rect x="357" y="453" width="15.5" height="12" fill="#c8a032"/>
<rect x="357" y="477" width="15.5" height="12" fill="#c8a032"/>
<path d="M354.5 467 V451 H374 V467 M354.5 475.8 V491 H374 V475.8" fill="none" stroke="#fff" stroke-width="1.5"/>
<rect x="356.8" y="456.4" width="12.5" height="30.4" rx="4.4" fill="url(#cylV)"/>
<rect x="356.8" y="463.7" width="12.5" height="3.5" fill="#8a1010"/>
<rect x="356.8" y="466.8" width="12.5" height="3.5" fill="#e6d80e"/>
<rect x="356.8" y="470" width="12.5" height="3.5" fill="#3e7a14"/>
<rect x="356.8" y="473.2" width="12.5" height="3.5" fill="#6b6a12"/>
<rect x="356.8" y="476.3" width="12.5" height="3.5" fill="#8a1010"/>
<rect x="356.8" y="463.7" width="12.5" height="15.8" fill="url(#shadeV)"/>
<rect x="497.5" y="415" width="14" height="11.7" fill="#c8a032"/>
<rect x="497.5" y="438.3" width="14" height="11.7" fill="#c8a032"/>
<path d="M495 428.6 V413 H513 V428.6 M495 437.2 V452 H513 V437.2" fill="none" stroke="#fff" stroke-width="1.5"/>
<rect x="497.8" y="418.1" width="11.5" height="29.6" rx="4" fill="url(#cylV)"/>
<rect x="497.8" y="425.2" width="11.5" height="3.4" fill="#8a1010"/>
<rect x="497.8" y="428.3" width="11.5" height="3.4" fill="#6b6a12"/>
<rect x="497.8" y="431.4" width="11.5" height="3.4" fill="#3e7a14"/>
<rect x="497.8" y="434.4" width="11.5" height="3.4" fill="#e6d80e"/>
<rect x="497.8" y="437.5" width="11.5" height="3.4" fill="#8a1010"/>
<rect x="497.8" y="425.2" width="11.5" height="15.4" fill="url(#shadeV)"/>
<rect x="533.5" y="414" width="14.5" height="12" fill="#c8a032"/>
<rect x="533.5" y="438" width="14.5" height="12" fill="#c8a032"/>
<path d="M531 428 V412 H549.5 V428 M531 436.8 V452 H549.5 V436.8" fill="none" stroke="#fff" stroke-width="1.5"/>
<rect x="534" y="417.2" width="11.8" height="30.4" rx="4.1" fill="url(#cylV)"/>
<rect x="534" y="424.5" width="11.8" height="3.5" fill="#8a1010"/>
<rect x="534" y="427.7" width="11.8" height="3.5" fill="#6b6a12"/>
<rect x="534" y="430.8" width="11.8" height="3.5" fill="#3e7a14"/>
<rect x="534" y="434" width="11.8" height="3.5" fill="#e6d80e"/>
<rect x="534" y="437.1" width="11.8" height="3.5" fill="#8a1010"/>
<rect x="534" y="424.5" width="11.8" height="15.8" fill="url(#shadeV)"/>
<rect x="573" y="523.5" width="11.7" height="13" fill="#c8a032"/>
<rect x="596.3" y="523.5" width="11.7" height="13" fill="#c8a032"/>
<path d="M585.8 521 H571 V538 H585.8 M594.4 521 H610 V538 H594.4" fill="none" stroke="#fff" stroke-width="1.5"/>
<rect x="576" y="524.7" width="28.9" height="10.9" rx="3.8" fill="url(#cylH)"/>
<rect x="582.4" y="524.7" width="3.3" height="10.9" fill="#8a1010"/>
<rect x="585.4" y="524.7" width="3.3" height="10.9" fill="#6b6a12"/>
<rect x="588.4" y="524.7" width="3.3" height="10.9" fill="#3e7a14"/>
<rect x="591.4" y="524.7" width="3.3" height="10.9" fill="#e6d80e"/>
<rect x="594.4" y="524.7" width="3.3" height="10.9" fill="#8a1010"/>
<rect x="582.4" y="524.7" width="15" height="10.9" fill="url(#shadeH)"/>
<rect x="655.5" y="408" width="13.5" height="11.4" fill="#c8a032"/>
<rect x="655.5" y="430.6" width="13.5" height="11.4" fill="#c8a032"/>
<path d="M653 421.2 V406 H670.5 V421.2 M653 429.6 V444 H670.5 V429.6" fill="none" stroke="#fff" stroke-width="1.5"/>
<rect x="656.5" y="410.9" width="11.2" height="28.9" rx="3.9" fill="url(#cylV)"/>
<rect x="656.5" y="417.9" width="11.2" height="3.3" fill="#8a1010"/>
<rect x="656.5" y="420.9" width="11.2" height="3.3" fill="#6b6a12"/>
<rect x="656.5" y="423.9" width="11.2" height="3.3" fill="#3e7a14"/>
<rect x="656.5" y="426.9" width="11.2" height="3.3" fill="#e6d80e"/>
<rect x="656.5" y="429.9" width="11.2" height="3.3" fill="#8a1010"/>
<rect x="656.5" y="417.9" width="11.2" height="15" fill="url(#shadeV)"/>
<rect x="751.5" y="440" width="12.5" height="11.4" fill="#c8a032"/>
<rect x="751.5" y="462.6" width="12.5" height="11.4" fill="#c8a032"/>
<path d="M749 453.2 V438 H765.5 V453.2 M749 461.6 V476 H765.5 V461.6" fill="none" stroke="#fff" stroke-width="1.5"/>
<rect x="752.8" y="443.1" width="10.6" height="28.9" rx="3.7" fill="url(#cylV)"/>
<rect x="752.8" y="450" width="10.6" height="3.3" fill="#8a1010"/>
<rect x="752.8" y="453" width="10.6" height="3.3" fill="#6b6a12"/>
<rect x="752.8" y="456" width="10.6" height="3.3" fill="#3e7a14"/>
<rect x="752.8" y="459" width="10.6" height="3.3" fill="#e6d80e"/>
<rect x="752.8" y="462" width="10.6" height="3.3" fill="#8a1010"/>
<rect x="752.8" y="450" width="10.6" height="15" fill="url(#shadeV)"/>
<rect x="811.5" y="409.5" width="13" height="11.2" fill="#c8a032"/>
<rect x="811.5" y="431.8" width="13" height="11.2" fill="#c8a032"/>
<path d="M809 422.5 V407.5 H826 V422.5 M809 430.8 V445 H826 V430.8" fill="none" stroke="#fff" stroke-width="1.5"/>
<rect x="813.1" y="412.4" width="10.9" height="28.5" rx="3.8" fill="url(#cylV)"/>
<rect x="813.1" y="419.2" width="10.9" height="3.3" fill="#8a1010"/>
<rect x="813.1" y="422.2" width="10.9" height="3.3" fill="#6b6a12"/>
<rect x="813.1" y="425.1" width="10.9" height="3.3" fill="#3e7a14"/>
<rect x="813.1" y="428.1" width="10.9" height="3.3" fill="#e6d80e"/>
<rect x="813.1" y="431.1" width="10.9" height="3.3" fill="#8a1010"/>
<rect x="813.1" y="419.2" width="10.9" height="14.8" fill="url(#shadeV)"/>
<rect x="885.5" y="401.5" width="13" height="10.9" fill="#c8a032"/>
<rect x="885.5" y="423.1" width="13" height="10.9" fill="#c8a032"/>
<path d="M883 414.1 V399.5 H900 V414.1 M883 422.1 V436 H900 V422.1" fill="none" stroke="#fff" stroke-width="1.5"/>
<rect x="887.5" y="404.2" width="10.9" height="27.7" rx="3.8" fill="url(#cylV)"/>
<rect x="887.5" y="410.9" width="10.9" height="3.2" fill="#8a1010"/>
<rect x="887.5" y="413.8" width="10.9" height="3.2" fill="#6b6a12"/>
<rect x="887.5" y="416.7" width="10.9" height="3.2" fill="#3e7a14"/>
<rect x="887.5" y="419.5" width="10.9" height="3.2" fill="#e6d80e"/>
<rect x="887.5" y="422.4" width="10.9" height="3.2" fill="#8a1010"/>
<rect x="887.5" y="410.9" width="10.9" height="14.4" fill="url(#shadeV)"/>
<rect x="841" y="489.5" width="10.5" height="13" fill="#c8a032"/>
<rect x="861.5" y="489.5" width="10.5" height="13" fill="#c8a032"/>
<path d="M852.3 487 H839 V504 H852.3 M860 487 H874 V504 H860" fill="none" stroke="#fff" stroke-width="1.5"/>
<rect x="844.8" y="490.6" width="25.9" height="10.9" rx="3.8" fill="url(#cylH)"/>
<rect x="850.5" y="490.6" width="3" height="10.9" fill="#8a1010"/>
<rect x="853.2" y="490.6" width="3" height="10.9" fill="#e6d80e"/>
<rect x="855.9" y="490.6" width="3" height="10.9" fill="#3e7a14"/>
<rect x="858.6" y="490.6" width="3" height="10.9" fill="#6b6a12"/>
<rect x="861.3" y="490.6" width="3" height="10.9" fill="#8a1010"/>
<rect x="850.5" y="490.6" width="13.5" height="10.9" fill="url(#shadeH)"/>
<rect x="948" y="481.5" width="10.5" height="12" fill="#c8a032"/>
<rect x="968.5" y="481.5" width="10.5" height="12" fill="#c8a032"/>
<path d="M959.3 479 H946 V495 H959.3 M967 479 H981 V495 H967" fill="none" stroke="#fff" stroke-width="1.5"/>
<rect x="952.4" y="482.4" width="25.9" height="10.2" rx="3.6" fill="url(#cylH)"/>
<rect x="958.1" y="482.4" width="3" height="10.2" fill="#8a1010"/>
<rect x="960.8" y="482.4" width="3" height="10.2" fill="#e6d80e"/>
<rect x="963.5" y="482.4" width="3" height="10.2" fill="#3e7a14"/>
<rect x="966.1" y="482.4" width="3" height="10.2" fill="#6b6a12"/>
<rect x="968.8" y="482.4" width="3" height="10.2" fill="#8a1010"/>
<rect x="958.1" y="482.4" width="13.5" height="10.2" fill="url(#shadeH)"/>
<rect x="1086.5" y="520" width="9.8" height="11" fill="#c8a032"/>
<rect x="1105.2" y="520" width="9.8" height="11" fill="#c8a032"/>
<path d="M1096.8 517.5 H1084.5 V532.5 H1096.8 M1104 517.5 H1117 V532.5 H1104" fill="none" stroke="#fff" stroke-width="1.5"/>
<rect x="1091.2" y="520.9" width="24.1" height="9.6" rx="3.4" fill="url(#cylH)"/>
<rect x="1096.5" y="520.9" width="2.8" height="9.6" fill="#8a1010"/>
<rect x="1099" y="520.9" width="2.8" height="9.6" fill="#e6d80e"/>
<rect x="1101.5" y="520.9" width="2.8" height="9.6" fill="#3e7a14"/>
<rect x="1104" y="520.9" width="2.8" height="9.6" fill="#6b6a12"/>
<rect x="1106.5" y="520.9" width="2.8" height="9.6" fill="#8a1010"/>
<rect x="1096.5" y="520.9" width="12.5" height="9.6" fill="url(#shadeH)"/>
<rect x="943" y="570" width="10.5" height="11.5" fill="#c8a032"/>
<rect x="963.5" y="570" width="10.5" height="11.5" fill="#c8a032"/>
<path d="M954.3 567.5 H941 V583 H954.3 M962 567.5 H976 V583 H962" fill="none" stroke="#fff" stroke-width="1.5"/>
<rect x="947.3" y="571.1" width="25.9" height="9.9" rx="3.5" fill="url(#cylH)"/>
<rect x="953" y="571.1" width="3" height="9.9" fill="#8a1010"/>
<rect x="955.7" y="571.1" width="3" height="9.9" fill="#e6d80e"/>
<rect x="958.4" y="571.1" width="3" height="9.9" fill="#3e7a14"/>
<rect x="961.1" y="571.1" width="3" height="9.9" fill="#6b6a12"/>
<rect x="963.8" y="571.1" width="3" height="9.9" fill="#8a1010"/>
<rect x="953" y="571.1" width="13.5" height="9.9" fill="url(#shadeH)"/>
<rect x="668.5" y="566" width="14" height="11.1" fill="#c8a032"/>
<rect x="668.5" y="587.9" width="14" height="11.1" fill="#c8a032"/>
<path d="M666 578.8 V564 H684 V578.8 M666 586.9 V601 H684 V586.9" fill="none" stroke="#fff" stroke-width="1.5"/>
<rect x="669.6" y="569.5" width="11.5" height="28.1" rx="4" fill="url(#cylV)"/>
<rect x="669.6" y="576.3" width="11.5" height="3.2" fill="#8a1010"/>
<rect x="669.6" y="579.2" width="11.5" height="3.2" fill="#e6d80e"/>
<rect x="669.6" y="582.1" width="11.5" height="3.2" fill="#3e7a14"/>
<rect x="669.6" y="585" width="11.5" height="3.2" fill="#6b6a12"/>
<rect x="669.6" y="588" width="11.5" height="3.2" fill="#8a1010"/>
<rect x="669.6" y="576.3" width="11.5" height="14.6" fill="url(#shadeV)"/>
<rect x="515.5" y="256" width="12.3" height="13" fill="#c8a032"/>
<rect x="541.2" y="256" width="12.3" height="13" fill="#c8a032"/>
<path d="M529.6 254 H514 V271 H529.6 M538.6 254 H555 V271 H538.6" fill="none" stroke="#fff" stroke-width="1.5"/>
<rect x="521.1" y="256.2" width="26.2" height="12.2" fill="#f4f4f4"/>
<rect x="524.8" y="256.2" width="18.9" height="12.2" fill="#555657"/>
<rect x="782.5" y="176" width="11.4" height="13" fill="#c8a032"/>
<rect x="806.1" y="176" width="11.4" height="13" fill="#c8a032"/>
<path d="M795.4 174 H781 V191 H795.4 M803.8 174 H819 V191 H803.8" fill="none" stroke="#fff" stroke-width="1.5"/>
<rect x="788.6" y="175.9" width="24.3" height="12.2" fill="#f4f4f4"/>
<rect x="792" y="175.9" width="17.5" height="12.2" fill="#555657"/>
<rect x="877" y="341.5" width="12" height="12" fill="#c8a032"/>
<rect x="877" y="366.5" width="12" height="12" fill="#c8a032"/>
<path d="M875 356 V340 H891 V356 M875 364.8 V380 H891 V364.8" fill="none" stroke="#fff" stroke-width="1.5"/>
<rect x="878" y="346.9" width="12.8" height="26.4" fill="#f4f4f4"/>
<rect x="878" y="349.7" width="12.8" height="20.8" fill="#555657"/>
<rect x="822.5" y="369.5" width="12.5" height="11.4" fill="#c8a032"/>
<rect x="822.5" y="393.1" width="12.5" height="11.4" fill="#c8a032"/>
<path d="M820.5 383.2 V368 H837 V383.2 M820.5 391.6 V406 H837 V391.6" fill="none" stroke="#fff" stroke-width="1.5"/>
<rect x="823.3" y="374.6" width="13.2" height="25.1" fill="#f4f4f4"/>
<rect x="823.3" y="377.3" width="13.2" height="19.8" fill="#555657"/>
<rect x="523.5" y="480" width="12" height="14" fill="#c8a032"/>
<rect x="548.5" y="480" width="12" height="14" fill="#c8a032"/>
<path d="M537.2 478 H522 V496 H537.2 M546 478 H562 V496 H546" fill="none" stroke="#fff" stroke-width="1.5"/>
<rect x="529" y="481" width="25.6" height="13" fill="#f4f4f4"/>
<rect x="532.6" y="481" width="18.4" height="13" fill="#555657"/>
<rect x="784" y="474.5" width="10.9" height="12.5" fill="#c8a032"/>
<rect x="806.5" y="474.5" width="10.9" height="12.5" fill="#c8a032"/>
<path d="M796.4 472.5 H782.5 V489 H796.4 M804.4 472.5 H819 V489 H804.4" fill="none" stroke="#fff" stroke-width="1.5"/>
<rect x="789.8" y="475.2" width="23.4" height="11.9" fill="#f4f4f4"/>
<rect x="793.1" y="475.2" width="16.8" height="11.9" fill="#555657"/>
<g fill="#f4f4f4" font-family="'Liberation Sans', sans-serif" text-anchor="middle">
<text font-size="14.3" transform="translate(185.5 153) rotate(-90)" y="5.1" textLength="32.1" lengthAdjust="spacingAndGlyphs">R314</text>
<text font-size="14.6" transform="translate(89 191) rotate(-90)" y="5.3" textLength="29.1" lengthAdjust="spacingAndGlyphs">R311</text>
<text font-size="14.1" transform="translate(248.7 229) rotate(0)" y="5.1" textLength="33" lengthAdjust="spacingAndGlyphs">R313</text>
<text font-size="14.5" transform="translate(110 275) rotate(0)" y="5.2" textLength="33.6" lengthAdjust="spacingAndGlyphs">R310</text>
<text font-size="13.8" transform="translate(337.5 316.5) rotate(-90)" y="5" textLength="30.5" lengthAdjust="spacingAndGlyphs">R312</text>
<text font-size="12.9" transform="translate(576.5 227.5) rotate(180)" y="4.7" textLength="26.4" lengthAdjust="spacingAndGlyphs">R116</text>
<text font-size="13.2" transform="translate(497.7 263.5) rotate(180)" y="4.8" textLength="31" lengthAdjust="spacingAndGlyphs">C104</text>
<text font-size="13.1" transform="translate(516.5 325) rotate(90)" y="4.7" textLength="25.9" lengthAdjust="spacingAndGlyphs">R119</text>
<text font-size="13" transform="translate(551 325.5) rotate(90)" y="4.7" textLength="26.4" lengthAdjust="spacingAndGlyphs">R118</text>
<text font-size="12.7" transform="translate(649 135) rotate(0)" y="4.6" textLength="30.9" lengthAdjust="spacingAndGlyphs">R127</text>
<text font-size="12.3" transform="translate(765 186.5) rotate(0)" y="4.4" textLength="29.4" lengthAdjust="spacingAndGlyphs">C103</text>
<text font-size="12" transform="translate(841.5 240.5) rotate(0)" y="4.3" textLength="28.3" lengthAdjust="spacingAndGlyphs">R108</text>
<text font-size="12.3" transform="translate(758.5 262) rotate(90)" y="4.4" textLength="38.9" lengthAdjust="spacingAndGlyphs">R108A</text>
<text font-size="12.7" transform="translate(660 283.5) rotate(-90)" y="4.6" textLength="26.4" lengthAdjust="spacingAndGlyphs">R112</text>
<text font-size="12.2" transform="translate(804 321) rotate(-90)" y="4.4" textLength="28.8" lengthAdjust="spacingAndGlyphs">R107</text>
<text font-size="11.5" transform="translate(993.5 151) rotate(0)" y="4.1" textLength="36.3" lengthAdjust="spacingAndGlyphs">R105A</text>
<text font-size="11.3" transform="translate(1069 175) rotate(180)" y="4.1" textLength="35.2" lengthAdjust="spacingAndGlyphs">SW103</text>
<text font-size="11" transform="translate(1150.5 215) rotate(-90)" y="4" textLength="23.2" lengthAdjust="spacingAndGlyphs">R101</text>
<text font-size="11.6" transform="translate(973 220.5) rotate(180)" y="4.2" textLength="27.3" lengthAdjust="spacingAndGlyphs">R102</text>
<text font-size="11.8" transform="translate(922 338) rotate(90)" y="4.2" textLength="27.3" lengthAdjust="spacingAndGlyphs">R103</text>
<text font-size="11.5" transform="translate(1000 267.5) rotate(-90)" y="4.1" textLength="38.3" lengthAdjust="spacingAndGlyphs">SW401</text>
<text font-size="11.8" transform="translate(898 368) rotate(90)" y="4.3" textLength="24.3" lengthAdjust="spacingAndGlyphs">C113</text>
<text font-size="14.5" transform="translate(122 473) rotate(0)" y="5.2" textLength="37.1" lengthAdjust="spacingAndGlyphs">R300</text>
<text font-size="14" transform="translate(259.5 505) rotate(0)" y="5" textLength="34.5" lengthAdjust="spacingAndGlyphs">R303</text>
<text font-size="14.5" transform="translate(114 555) rotate(90)" y="5.2" textLength="32.6" lengthAdjust="spacingAndGlyphs">R301</text>
<text font-size="14" transform="translate(264 573) rotate(-90)" y="5" textLength="31.5" lengthAdjust="spacingAndGlyphs">R304</text>
<text font-size="13.6" transform="translate(385 476) rotate(90)" y="4.9" textLength="32" lengthAdjust="spacingAndGlyphs">R302</text>
<text font-size="13.2" transform="translate(489 435) rotate(-90)" y="4.8" textLength="29.5" lengthAdjust="spacingAndGlyphs">R219</text>
<text font-size="13.1" transform="translate(523 433) rotate(-90)" y="4.7" textLength="28.9" lengthAdjust="spacingAndGlyphs">R218</text>
<text font-size="13.2" transform="translate(503 486) rotate(180)" y="4.7" textLength="34" lengthAdjust="spacingAndGlyphs">C204</text>
<text font-size="12.9" transform="translate(590 545.5) rotate(180)" y="4.6" textLength="29.4" lengthAdjust="spacingAndGlyphs">R216</text>
<text font-size="12.6" transform="translate(662 462) rotate(-90)" y="4.6" textLength="27.9" lengthAdjust="spacingAndGlyphs">R212</text>
<text font-size="12.3" transform="translate(772 454) rotate(-90)" y="4.4" textLength="39.4" lengthAdjust="spacingAndGlyphs">R208A</text>
<text font-size="12.3" transform="translate(762 483) rotate(180)" y="4.4" textLength="30.9" lengthAdjust="spacingAndGlyphs">C203</text>
<text font-size="12.1" transform="translate(812 390) rotate(-90)" y="4.4" textLength="29.8" lengthAdjust="spacingAndGlyphs">C213</text>
<text font-size="12.2" transform="translate(802 424) rotate(-90)" y="4.4" textLength="31.3" lengthAdjust="spacingAndGlyphs">R207</text>
<text font-size="11.9" transform="translate(875 420.5) rotate(-90)" y="4.3" textLength="31.3" lengthAdjust="spacingAndGlyphs">R203</text>
<text font-size="12" transform="translate(855.5 513) rotate(0)" y="4.3" textLength="30.3" lengthAdjust="spacingAndGlyphs">R208</text>
<text font-size="11.6" transform="translate(962 501) rotate(0)" y="4.2" textLength="29.3" lengthAdjust="spacingAndGlyphs">R202</text>
<text font-size="11.6" transform="translate(960.5 559) rotate(0)" y="4.2" textLength="36.3" lengthAdjust="spacingAndGlyphs">R205A</text>
<text font-size="12.7" transform="translate(650 594) rotate(0)" y="4.6" textLength="31.9" lengthAdjust="spacingAndGlyphs">R227</text>
<text font-size="11.4" transform="translate(1030.5 607) rotate(90)" y="4.1" textLength="38.8" lengthAdjust="spacingAndGlyphs">SW503</text>
</g>
<polygon points="1012.5,203 1036.7,200.3 1027.5,369 1004,363" fill="#06609f"/>
<polygon points="1036.7,200.3 1105,201 1095,366 1027.5,369" fill="#05bdfe"/>
<line x1="1011.3" y1="203.5" x2="1003.3" y2="363" stroke="#fff" stroke-width="1.4"/>
<rect x="1057" y="211" width="30.5" height="11.6" fill="#fdfdfd"/>
<path d="M1067.1 211 Q1071 216.8 1066.2 222.6 L1077.4 222.6 Q1074.4 216.8 1078.3 211 z" fill="#a3a3a3"/>
<rect x="1055.9" y="230.3" width="30.5" height="11.6" fill="#fdfdfd"/>
<path d="M1065.9 230.3 Q1069.9 236.1 1065 241.9 L1076.3 241.9 Q1073.2 236.1 1077.2 230.3 z" fill="#a3a3a3"/>
<rect x="1054.7" y="249.6" width="30.5" height="11.6" fill="#fdfdfd"/>
<path d="M1064.8 249.6 Q1068.7 255.4 1063.9 261.2 L1075.1 261.2 Q1072.1 255.4 1076.1 249.6 z" fill="#a3a3a3"/>
<rect x="1053.6" y="268.9" width="30.5" height="11.6" fill="#fdfdfd"/>
<path d="M1063.6 268.9 Q1067.6 274.7 1062.7 280.5 L1074 280.5 Q1071 274.7 1074.9 268.9 z" fill="#a3a3a3"/>
<rect x="1052.4" y="288.1" width="30.5" height="11.6" fill="#fdfdfd"/>
<path d="M1062.5 288.1 Q1066.5 293.9 1061.6 299.7 L1072.9 299.7 Q1069.8 293.9 1073.8 288.1 z" fill="#a3a3a3"/>
<rect x="1051.3" y="307.4" width="30.5" height="11.6" fill="#fdfdfd"/>
<path d="M1061.4 307.4 Q1065.3 313.2 1060.4 319 L1071.7 319 Q1068.7 313.2 1072.6 307.4 z" fill="#a3a3a3"/>
<rect x="1050.1" y="326.7" width="30.5" height="11.6" fill="#fdfdfd"/>
<path d="M1060.2 326.7 Q1064.2 332.5 1059.3 338.3 L1070.6 338.3 Q1067.5 332.5 1071.5 326.7 z" fill="#a3a3a3"/>
<rect x="1049" y="346" width="30.5" height="11.6" fill="#fdfdfd"/>
<path d="M1059.1 346 Q1063 351.8 1058.2 357.6 L1069.4 357.6 Q1066.4 351.8 1070.3 346 z" fill="#a3a3a3"/>
<text font-family="'Liberation Sans', sans-serif" text-anchor="middle" fill="#f6f6f6" font-size="12.5" transform="translate(1039.5 344.5) rotate(-90)" y="4.5">ON</text>
<text font-family="'Liberation Sans', sans-serif" text-anchor="middle" fill="#f6f6f6" font-size="11" transform="translate(1086.5 352.5) rotate(-90)" y="4">1</text>
<rect x="1104.5" y="229.5" width="5" height="3" fill="#d9d9d9"/>
<rect x="1102.5" y="228" width="2" height="4" fill="#c8a032"/>
<rect x="1102" y="271" width="5" height="3" fill="#d9d9d9"/>
<rect x="1100" y="269.5" width="2" height="4" fill="#c8a032"/>
<rect x="1099.5" y="311.5" width="5" height="3" fill="#d9d9d9"/>
<rect x="1097.5" y="310" width="2" height="4" fill="#c8a032"/>
<rect x="1097" y="352" width="5" height="3" fill="#d9d9d9"/>
<rect x="1095" y="350.5" width="2" height="4" fill="#c8a032"/>
<polygon points="1003.4,373.7 1070.4,372.4 1094.7,377.3 1026.5,378.5" fill="#0769ab"/>
<polygon points="1003.4,373.7 1026.5,378.5 1018.7,538 995.4,527" fill="#06609f"/>
<polygon points="1026.5,378.5 1094.7,377.3 1084.5,535.6 1018.7,538" fill="#05bdfe"/>
<line x1="1003.3" y1="374" x2="995.3" y2="527.5" stroke="#fff" stroke-width="1.4"/>
<rect x="1047.5" y="389" width="12.5" height="10.3" fill="#fdfdfd"/>
<path d="M1058.5 389 l5 -1.6 l3.2 0.6 l0.5 11.6 l-5.7 -0.4 z" fill="#b3b3b3"/>
<path d="M1066.7 388 l9.8 0.6 l-1.6 11 l-7.7 0 z" fill="#fbfbfb"/>
<path d="M1066.7 388 l2.2 0.2 l-1.2 11.2 l-0.5 0 z" fill="#cfcfcf"/>
<rect x="1046.4" y="407.5" width="12.5" height="10.3" fill="#fdfdfd"/>
<path d="M1057.4 407.5 l5 -1.6 l3.2 0.6 l0.5 11.6 l-5.7 -0.4 z" fill="#b3b3b3"/>
<path d="M1065.6 406.5 l9.8 0.6 l-1.6 11 l-7.7 0 z" fill="#fbfbfb"/>
<path d="M1065.6 406.5 l2.2 0.2 l-1.2 11.2 l-0.5 0 z" fill="#cfcfcf"/>
<rect x="1045.4" y="426" width="12.5" height="10.3" fill="#fdfdfd"/>
<path d="M1056.4 426 l5 -1.6 l3.2 0.6 l0.5 11.6 l-5.7 -0.4 z" fill="#b3b3b3"/>
<path d="M1064.6 425 l9.8 0.6 l-1.6 11 l-7.7 0 z" fill="#fbfbfb"/>
<path d="M1064.6 425 l2.2 0.2 l-1.2 11.2 l-0.5 0 z" fill="#cfcfcf"/>
<rect x="1044.3" y="444.5" width="12.5" height="10.3" fill="#fdfdfd"/>
<path d="M1055.3 444.5 l5 -1.6 l3.2 0.6 l0.5 11.6 l-5.7 -0.4 z" fill="#b3b3b3"/>
<path d="M1063.5 443.5 l9.8 0.6 l-1.6 11 l-7.7 0 z" fill="#fbfbfb"/>
<path d="M1063.5 443.5 l2.2 0.2 l-1.2 11.2 l-0.5 0 z" fill="#cfcfcf"/>
<rect x="1043.2" y="463" width="12.5" height="10.3" fill="#fdfdfd"/>
<path d="M1054.2 463 l5 -1.6 l3.2 0.6 l0.5 11.6 l-5.7 -0.4 z" fill="#b3b3b3"/>
<path d="M1062.4 462 l9.8 0.6 l-1.6 11 l-7.7 0 z" fill="#fbfbfb"/>
<path d="M1062.4 462 l2.2 0.2 l-1.2 11.2 l-0.5 0 z" fill="#cfcfcf"/>
<rect x="1042.1" y="481.5" width="12.5" height="10.3" fill="#fdfdfd"/>
<path d="M1053.1 481.5 l5 -1.6 l3.2 0.6 l0.5 11.6 l-5.7 -0.4 z" fill="#b3b3b3"/>
<path d="M1061.3 480.5 l9.8 0.6 l-1.6 11 l-7.7 0 z" fill="#fbfbfb"/>
<path d="M1061.3 480.5 l2.2 0.2 l-1.2 11.2 l-0.5 0 z" fill="#cfcfcf"/>
<rect x="1041.1" y="500" width="12.5" height="10.3" fill="#fdfdfd"/>
<path d="M1052.1 500 l5 -1.6 l3.2 0.6 l0.5 11.6 l-5.7 -0.4 z" fill="#b3b3b3"/>
<path d="M1060.3 499 l9.8 0.6 l-1.6 11 l-7.7 0 z" fill="#fbfbfb"/>
<path d="M1060.3 499 l2.2 0.2 l-1.2 11.2 l-0.5 0 z" fill="#cfcfcf"/>
<rect x="1040" y="518.5" width="12.5" height="10.3" fill="#fdfdfd"/>
<path d="M1051 518.5 l5 -1.6 l3.2 0.6 l0.5 11.6 l-5.7 -0.4 z" fill="#b3b3b3"/>
<path d="M1059.2 517.5 l9.8 0.6 l-1.6 11 l-7.7 0 z" fill="#fbfbfb"/>
<path d="M1059.2 517.5 l2.2 0.2 l-1.2 11.2 l-0.5 0 z" fill="#cfcfcf"/>
<text font-family="'Liberation Sans', sans-serif" text-anchor="middle" fill="#f6f6f6" font-size="12" transform="translate(1029.7 516) rotate(-90)" y="4.3">ON</text>
<text font-family="'Liberation Sans', sans-serif" text-anchor="middle" fill="#f6f6f6" font-size="8.5" transform="translate(1076 523) rotate(-90)" y="3.1">1</text>
<rect x="1095" y="396" width="5" height="3" fill="#d9d9d9" transform="rotate(20 1095 397)"/>
<rect x="1092.5" y="393" width="2" height="5" fill="#c8a032"/>
<rect x="1092.5" y="433" width="5" height="3" fill="#d9d9d9" transform="rotate(20 1092.5 434)"/>
<rect x="1090" y="430" width="2" height="5" fill="#c8a032"/>
<rect x="1090" y="470" width="5" height="3" fill="#d9d9d9" transform="rotate(20 1090 471)"/>
<rect x="1087.5" y="467" width="2" height="5" fill="#c8a032"/>
<rect x="1087.5" y="506.5" width="5" height="3" fill="#d9d9d9" transform="rotate(20 1087.5 507.5)"/>
<rect x="1085" y="503.5" width="2" height="5" fill="#c8a032"/>
<polygon points="867,132 883,127 882,180 866,183" fill="#6e1011"/>
<polygon points="866,183 882,180 956,180.5 944,184" fill="#6e1011"/>
<polygon points="883,127 957.5,128.2 956,180.5 882,180" fill="#e41f21"/>
<polygon points="907.5,127.3 934,127.8 934,131 922,132.5 907.5,131.5" fill="#6e1011"/>
<polygon points="907.5,127.3 934.5,127.8 934.5,128.6 921,131.6 907.5,131.5" fill="#09265c"/>
<polygon points="921,131.6 934.5,128.6 934.5,131.2" fill="#6e1011"/>
<rect x="907" y="138" width="30" height="12" fill="#fdfdfd"/>
<path d="M920.2 138 Q924.1 144 919.3 150 L928.3 150 Q925.3 144 929.2 138 z" fill="#a3a3a3"/>
<rect x="906.5" y="159" width="30" height="11.5" fill="#fdfdfd"/>
<path d="M919.7 159 Q923.6 164.8 918.8 170.5 L927.8 170.5 Q924.8 164.8 928.7 159 z" fill="#a3a3a3"/>
<text font-family="'Liberation Sans', sans-serif" text-anchor="middle" fill="#f6f6f6" font-size="13" transform="translate(899.5 141.5) rotate(90)" y="4.7">1</text>
<text font-family="'Liberation Sans', sans-serif" text-anchor="middle" fill="#f6f6f6" font-size="13" transform="translate(899 165) rotate(90)" y="4.7">2</text>
<text font-family="'Liberation Sans', sans-serif" text-anchor="middle" fill="#f6f6f6" font-size="12.5" transform="translate(950 149) rotate(90)" y="4.5">ON</text>
<polygon points="865.5,547 935,544 950.5,555.5 881,559" fill="#6e1011"/>
<polygon points="865.5,547 881,559 879,606 864,592" fill="#6e1011"/>
<polygon points="881,559 950.5,555.5 949,602 879,606" fill="#e41f21"/>
<polygon points="904,558 929,556.8 929,560.5 904.5,561.5" fill="#6e1011"/>
<polygon points="893,549 916,548 920.5,555 901,556" fill="#3b3b3b"/>
<rect x="903" y="567" width="14.8" height="10.2" fill="#fdfdfd" transform="rotate(-1.5 903 567)"/>
<path d="M917.5 566.6 l5 2.6 l-1 10.3 l-4 -2.6 z" fill="#a6a6a6"/>
<path d="M917.5 566.6 l7.5 -1 l7 2.5 l-9.5 0.9 z" fill="#cdcdcd"/>
<path d="M922.5 569.2 l9.5 -0.9 l-1 10.8 l-9.5 0.4 z" fill="#fcfcfc"/>
<rect x="903" y="585.5" width="14.8" height="10.2" fill="#fdfdfd" transform="rotate(-1.5 903 585.5)"/>
<path d="M917.5 585.1 l5 2.6 l-1 10.3 l-4 -2.6 z" fill="#a6a6a6"/>
<path d="M917.5 585.1 l7.5 -1 l7 2.5 l-9.5 0.9 z" fill="#cdcdcd"/>
<path d="M922.5 587.7 l9.5 -0.9 l-1 10.8 l-9.5 0.4 z" fill="#fcfcfc"/>
<text font-family="'Liberation Sans', sans-serif" text-anchor="middle" fill="#f6f6f6" font-size="12.5" transform="translate(896.5 571) rotate(90)" y="4.5">1</text>
<text font-family="'Liberation Sans', sans-serif" text-anchor="middle" fill="#f6f6f6" font-size="12.5" transform="translate(896 592.5) rotate(90)" y="4.5">2</text>
<text font-family="'Liberation Sans', sans-serif" text-anchor="middle" fill="#f6f6f6" font-size="12" transform="translate(944.5 575) rotate(90)" y="4.3">ON</text>
<polygon points="1058.7,92.4 1084.4,85.1 1079,164.5 1054.8,166.9" fill="#6e1011"/>
<polygon points="1054.8,166.9 1079,164.5 1144,164 1114.7,168.2" fill="#6e1011"/>
<polygon points="1084.4,85.1 1148.5,87.1 1147.4,110.8 1143,112 1142.8,139.6 1145.8,139.8 1144,164 1079,164.5" fill="#e41f21"/>
<line x1="1058" y1="92.8" x2="1054.2" y2="166.5" stroke="#fff" stroke-width="1.4"/>
<path d="M1090.6 111.6 h10.5 l1.5 15.4 h4 v11.5 h-16 z" fill="#fdfdfd"/>
<path d="M1090.6 127 h5.5 l0.5 11.5 h-6 z" fill="#a9a9a9"/>
<path d="M1094.6 113 l4 12" stroke="#d6d6d6" stroke-width="1" fill="none"/>
<path d="M1108.6 111.6 h10.5 l1.5 15.4 h4 v11.5 h-16 z" fill="#fdfdfd"/>
<path d="M1108.6 127 h5.5 l0.5 11.5 h-6 z" fill="#a9a9a9"/>
<path d="M1112.6 113 l4 12" stroke="#d6d6d6" stroke-width="1" fill="none"/>
<path d="M1127 111.6 h10.5 l1.5 15.4 h4 v11.5 h-16 z" fill="#fdfdfd"/>
<path d="M1127 127 h5.5 l0.5 11.5 h-6 z" fill="#a9a9a9"/>
<path d="M1131 113 l4 12" stroke="#d6d6d6" stroke-width="1" fill="none"/>
<text font-family="'Liberation Sans', sans-serif" text-anchor="middle" fill="#f6f6f6" font-size="13.5" transform="translate(1097.3 103.3) rotate(180)" y="4.9">3</text>
<text font-family="'Liberation Sans', sans-serif" text-anchor="middle" fill="#f6f6f6" font-size="13.5" transform="translate(1115.8 103.5) rotate(180)" y="4.9">2</text>
<text font-family="'Liberation Sans', sans-serif" text-anchor="middle" fill="#f6f6f6" font-size="13.5" transform="translate(1133 104) rotate(180)" y="4.9">1</text>
<text font-family="'Liberation Sans', sans-serif" text-anchor="middle" fill="#f6f6f6" font-size="13" transform="translate(1126.1 157) rotate(180)" y="4.7">ON</text>
<polygon points="1038,566 1098,563 1122,575.5 1061,578" fill="#6e1011"/>
<polygon points="1038,566 1061,578 1057,647 1035,631" fill="#6e1011"/>
<polygon points="1061,578 1122,575.5 1117,642.5 1057,647 1058.4,625 1062.6,624.4 1063.6,601 1059.8,600.4" fill="#e41f21"/>
<line x1="1037.3" y1="566.5" x2="1034.5" y2="630.5" stroke="#fff" stroke-width="1.4"/>
<polygon points="1043,592.5 1053,598 1052.5,618 1042.5,611.5" fill="#3b3b3b"/>
<path d="M1067.8 602 l6 -2.6 l9 0.8 v11.5 h-6.5 l-1 12 h-8.3 z" fill="#fdfdfd"/>
<path d="M1067.8 602 l6 -2.6 l1 10 l-6.6 4.6 z" fill="#b1b1b1"/>
<path d="M1085 602 l6 -2.6 l9 0.8 v11.5 h-6.5 l-1 12 h-8.3 z" fill="#fdfdfd"/>
<path d="M1085 602 l6 -2.6 l1 10 l-6.6 4.6 z" fill="#b1b1b1"/>
<path d="M1102.2 602 l6 -2.6 l9 0.8 v11.5 h-6.5 l-1 12 h-8.3 z" fill="#fdfdfd"/>
<path d="M1102.2 602 l6 -2.6 l1 10 l-6.6 4.6 z" fill="#b1b1b1"/>
<text font-family="'Liberation Sans', sans-serif" text-anchor="middle" fill="#f6f6f6" font-size="11.5" transform="translate(1078 584.2) rotate(0)" y="4.1">ON</text>
<text font-family="'Liberation Sans', sans-serif" text-anchor="middle" fill="#f6f6f6" font-size="13" transform="translate(1071.4 630.4) rotate(0)" y="4.7">1</text>
<text font-family="'Liberation Sans', sans-serif" text-anchor="middle" fill="#f6f6f6" font-size="13" transform="translate(1088.2 630.4) rotate(0)" y="4.7">2</text>
<text font-family="'Liberation Sans', sans-serif" text-anchor="middle" fill="#f6f6f6" font-size="13" transform="translate(1105.8 629.6) rotate(0)" y="4.7">3</text>
</g>
<g fill="none" stroke="#39393b" stroke-width="2.8" stroke-linecap="round" stroke-linejoin="round">
<path d="M28.8 707.4 A21.3 21.3 0 1 0 34.1 720.4"/>
<path d="M30.1 698 V708 H19.4"/>
</g>
</svg>
</body></html>
